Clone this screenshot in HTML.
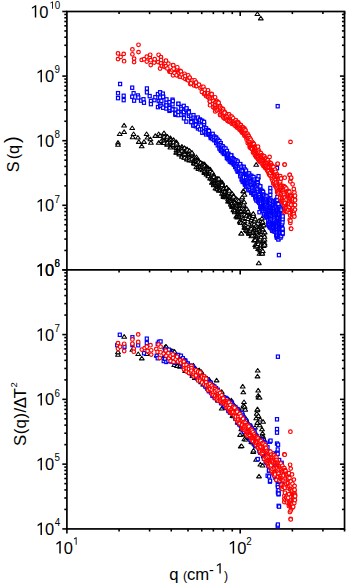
<!DOCTYPE html><html><head><meta charset="utf-8"><style>html,body{margin:0;padding:0;background:#fff;width:346px;height:584px;overflow:hidden}svg{display:block}</style></head><body>
<svg width="346" height="584" viewBox="0 0 346 584" font-family="Liberation Sans, sans-serif">
<g stroke="#000" stroke-linecap="butt"><line x1="62.30" y1="269.90" x2="66.90" y2="269.90" stroke-width="1.6"/><line x1="344.54" y1="269.90" x2="339.94" y2="269.90" stroke-width="1.6"/><line x1="64.30" y1="250.45" x2="66.90" y2="250.45" stroke-width="1.6"/><line x1="344.54" y1="250.45" x2="341.94" y2="250.45" stroke-width="1.6"/><line x1="64.30" y1="239.08" x2="66.90" y2="239.08" stroke-width="1.6"/><line x1="344.54" y1="239.08" x2="341.94" y2="239.08" stroke-width="1.6"/><line x1="64.30" y1="231.01" x2="66.90" y2="231.01" stroke-width="1.6"/><line x1="344.54" y1="231.01" x2="341.94" y2="231.01" stroke-width="1.6"/><line x1="64.30" y1="224.75" x2="66.90" y2="224.75" stroke-width="1.6"/><line x1="344.54" y1="224.75" x2="341.94" y2="224.75" stroke-width="1.6"/><line x1="64.30" y1="219.63" x2="66.90" y2="219.63" stroke-width="1.6"/><line x1="344.54" y1="219.63" x2="341.94" y2="219.63" stroke-width="1.6"/><line x1="64.30" y1="215.31" x2="66.90" y2="215.31" stroke-width="1.6"/><line x1="344.54" y1="215.31" x2="341.94" y2="215.31" stroke-width="1.6"/><line x1="64.30" y1="211.56" x2="66.90" y2="211.56" stroke-width="1.6"/><line x1="344.54" y1="211.56" x2="341.94" y2="211.56" stroke-width="1.6"/><line x1="64.30" y1="208.26" x2="66.90" y2="208.26" stroke-width="1.6"/><line x1="344.54" y1="208.26" x2="341.94" y2="208.26" stroke-width="1.6"/><line x1="62.30" y1="205.30" x2="66.90" y2="205.30" stroke-width="1.6"/><line x1="344.54" y1="205.30" x2="339.94" y2="205.30" stroke-width="1.6"/><line x1="64.30" y1="185.85" x2="66.90" y2="185.85" stroke-width="1.6"/><line x1="344.54" y1="185.85" x2="341.94" y2="185.85" stroke-width="1.6"/><line x1="64.30" y1="174.48" x2="66.90" y2="174.48" stroke-width="1.6"/><line x1="344.54" y1="174.48" x2="341.94" y2="174.48" stroke-width="1.6"/><line x1="64.30" y1="166.41" x2="66.90" y2="166.41" stroke-width="1.6"/><line x1="344.54" y1="166.41" x2="341.94" y2="166.41" stroke-width="1.6"/><line x1="64.30" y1="160.15" x2="66.90" y2="160.15" stroke-width="1.6"/><line x1="344.54" y1="160.15" x2="341.94" y2="160.15" stroke-width="1.6"/><line x1="64.30" y1="155.03" x2="66.90" y2="155.03" stroke-width="1.6"/><line x1="344.54" y1="155.03" x2="341.94" y2="155.03" stroke-width="1.6"/><line x1="64.30" y1="150.71" x2="66.90" y2="150.71" stroke-width="1.6"/><line x1="344.54" y1="150.71" x2="341.94" y2="150.71" stroke-width="1.6"/><line x1="64.30" y1="146.96" x2="66.90" y2="146.96" stroke-width="1.6"/><line x1="344.54" y1="146.96" x2="341.94" y2="146.96" stroke-width="1.6"/><line x1="64.30" y1="143.66" x2="66.90" y2="143.66" stroke-width="1.6"/><line x1="344.54" y1="143.66" x2="341.94" y2="143.66" stroke-width="1.6"/><line x1="62.30" y1="140.70" x2="66.90" y2="140.70" stroke-width="1.6"/><line x1="344.54" y1="140.70" x2="339.94" y2="140.70" stroke-width="1.6"/><line x1="64.30" y1="121.25" x2="66.90" y2="121.25" stroke-width="1.6"/><line x1="344.54" y1="121.25" x2="341.94" y2="121.25" stroke-width="1.6"/><line x1="64.30" y1="109.88" x2="66.90" y2="109.88" stroke-width="1.6"/><line x1="344.54" y1="109.88" x2="341.94" y2="109.88" stroke-width="1.6"/><line x1="64.30" y1="101.81" x2="66.90" y2="101.81" stroke-width="1.6"/><line x1="344.54" y1="101.81" x2="341.94" y2="101.81" stroke-width="1.6"/><line x1="64.30" y1="95.55" x2="66.90" y2="95.55" stroke-width="1.6"/><line x1="344.54" y1="95.55" x2="341.94" y2="95.55" stroke-width="1.6"/><line x1="64.30" y1="90.43" x2="66.90" y2="90.43" stroke-width="1.6"/><line x1="344.54" y1="90.43" x2="341.94" y2="90.43" stroke-width="1.6"/><line x1="64.30" y1="86.11" x2="66.90" y2="86.11" stroke-width="1.6"/><line x1="344.54" y1="86.11" x2="341.94" y2="86.11" stroke-width="1.6"/><line x1="64.30" y1="82.36" x2="66.90" y2="82.36" stroke-width="1.6"/><line x1="344.54" y1="82.36" x2="341.94" y2="82.36" stroke-width="1.6"/><line x1="64.30" y1="79.06" x2="66.90" y2="79.06" stroke-width="1.6"/><line x1="344.54" y1="79.06" x2="341.94" y2="79.06" stroke-width="1.6"/><line x1="62.30" y1="76.10" x2="66.90" y2="76.10" stroke-width="1.6"/><line x1="344.54" y1="76.10" x2="339.94" y2="76.10" stroke-width="1.6"/><line x1="64.30" y1="56.65" x2="66.90" y2="56.65" stroke-width="1.6"/><line x1="344.54" y1="56.65" x2="341.94" y2="56.65" stroke-width="1.6"/><line x1="64.30" y1="45.28" x2="66.90" y2="45.28" stroke-width="1.6"/><line x1="344.54" y1="45.28" x2="341.94" y2="45.28" stroke-width="1.6"/><line x1="64.30" y1="37.21" x2="66.90" y2="37.21" stroke-width="1.6"/><line x1="344.54" y1="37.21" x2="341.94" y2="37.21" stroke-width="1.6"/><line x1="64.30" y1="30.95" x2="66.90" y2="30.95" stroke-width="1.6"/><line x1="344.54" y1="30.95" x2="341.94" y2="30.95" stroke-width="1.6"/><line x1="64.30" y1="25.83" x2="66.90" y2="25.83" stroke-width="1.6"/><line x1="344.54" y1="25.83" x2="341.94" y2="25.83" stroke-width="1.6"/><line x1="64.30" y1="21.51" x2="66.90" y2="21.51" stroke-width="1.6"/><line x1="344.54" y1="21.51" x2="341.94" y2="21.51" stroke-width="1.6"/><line x1="64.30" y1="17.76" x2="66.90" y2="17.76" stroke-width="1.6"/><line x1="344.54" y1="17.76" x2="341.94" y2="17.76" stroke-width="1.6"/><line x1="64.30" y1="14.46" x2="66.90" y2="14.46" stroke-width="1.6"/><line x1="344.54" y1="14.46" x2="341.94" y2="14.46" stroke-width="1.6"/><line x1="62.30" y1="11.50" x2="66.90" y2="11.50" stroke-width="1.6"/><line x1="62.30" y1="528.92" x2="66.90" y2="528.92" stroke-width="1.6"/><line x1="344.54" y1="528.92" x2="339.94" y2="528.92" stroke-width="1.6"/><line x1="64.30" y1="509.42" x2="66.90" y2="509.42" stroke-width="1.6"/><line x1="344.54" y1="509.42" x2="341.94" y2="509.42" stroke-width="1.6"/><line x1="64.30" y1="498.01" x2="66.90" y2="498.01" stroke-width="1.6"/><line x1="344.54" y1="498.01" x2="341.94" y2="498.01" stroke-width="1.6"/><line x1="64.30" y1="489.92" x2="66.90" y2="489.92" stroke-width="1.6"/><line x1="344.54" y1="489.92" x2="341.94" y2="489.92" stroke-width="1.6"/><line x1="64.30" y1="483.64" x2="66.90" y2="483.64" stroke-width="1.6"/><line x1="344.54" y1="483.64" x2="341.94" y2="483.64" stroke-width="1.6"/><line x1="64.30" y1="478.51" x2="66.90" y2="478.51" stroke-width="1.6"/><line x1="344.54" y1="478.51" x2="341.94" y2="478.51" stroke-width="1.6"/><line x1="64.30" y1="474.17" x2="66.90" y2="474.17" stroke-width="1.6"/><line x1="344.54" y1="474.17" x2="341.94" y2="474.17" stroke-width="1.6"/><line x1="64.30" y1="470.42" x2="66.90" y2="470.42" stroke-width="1.6"/><line x1="344.54" y1="470.42" x2="341.94" y2="470.42" stroke-width="1.6"/><line x1="64.30" y1="467.10" x2="66.90" y2="467.10" stroke-width="1.6"/><line x1="344.54" y1="467.10" x2="341.94" y2="467.10" stroke-width="1.6"/><line x1="62.30" y1="464.14" x2="66.90" y2="464.14" stroke-width="1.6"/><line x1="344.54" y1="464.14" x2="339.94" y2="464.14" stroke-width="1.6"/><line x1="64.30" y1="444.64" x2="66.90" y2="444.64" stroke-width="1.6"/><line x1="344.54" y1="444.64" x2="341.94" y2="444.64" stroke-width="1.6"/><line x1="64.30" y1="433.23" x2="66.90" y2="433.23" stroke-width="1.6"/><line x1="344.54" y1="433.23" x2="341.94" y2="433.23" stroke-width="1.6"/><line x1="64.30" y1="425.14" x2="66.90" y2="425.14" stroke-width="1.6"/><line x1="344.54" y1="425.14" x2="341.94" y2="425.14" stroke-width="1.6"/><line x1="64.30" y1="418.86" x2="66.90" y2="418.86" stroke-width="1.6"/><line x1="344.54" y1="418.86" x2="341.94" y2="418.86" stroke-width="1.6"/><line x1="64.30" y1="413.73" x2="66.90" y2="413.73" stroke-width="1.6"/><line x1="344.54" y1="413.73" x2="341.94" y2="413.73" stroke-width="1.6"/><line x1="64.30" y1="409.39" x2="66.90" y2="409.39" stroke-width="1.6"/><line x1="344.54" y1="409.39" x2="341.94" y2="409.39" stroke-width="1.6"/><line x1="64.30" y1="405.64" x2="66.90" y2="405.64" stroke-width="1.6"/><line x1="344.54" y1="405.64" x2="341.94" y2="405.64" stroke-width="1.6"/><line x1="64.30" y1="402.32" x2="66.90" y2="402.32" stroke-width="1.6"/><line x1="344.54" y1="402.32" x2="341.94" y2="402.32" stroke-width="1.6"/><line x1="62.30" y1="399.36" x2="66.90" y2="399.36" stroke-width="1.6"/><line x1="344.54" y1="399.36" x2="339.94" y2="399.36" stroke-width="1.6"/><line x1="64.30" y1="379.86" x2="66.90" y2="379.86" stroke-width="1.6"/><line x1="344.54" y1="379.86" x2="341.94" y2="379.86" stroke-width="1.6"/><line x1="64.30" y1="368.45" x2="66.90" y2="368.45" stroke-width="1.6"/><line x1="344.54" y1="368.45" x2="341.94" y2="368.45" stroke-width="1.6"/><line x1="64.30" y1="360.36" x2="66.90" y2="360.36" stroke-width="1.6"/><line x1="344.54" y1="360.36" x2="341.94" y2="360.36" stroke-width="1.6"/><line x1="64.30" y1="354.08" x2="66.90" y2="354.08" stroke-width="1.6"/><line x1="344.54" y1="354.08" x2="341.94" y2="354.08" stroke-width="1.6"/><line x1="64.30" y1="348.95" x2="66.90" y2="348.95" stroke-width="1.6"/><line x1="344.54" y1="348.95" x2="341.94" y2="348.95" stroke-width="1.6"/><line x1="64.30" y1="344.61" x2="66.90" y2="344.61" stroke-width="1.6"/><line x1="344.54" y1="344.61" x2="341.94" y2="344.61" stroke-width="1.6"/><line x1="64.30" y1="340.86" x2="66.90" y2="340.86" stroke-width="1.6"/><line x1="344.54" y1="340.86" x2="341.94" y2="340.86" stroke-width="1.6"/><line x1="64.30" y1="337.54" x2="66.90" y2="337.54" stroke-width="1.6"/><line x1="344.54" y1="337.54" x2="341.94" y2="337.54" stroke-width="1.6"/><line x1="62.30" y1="334.58" x2="66.90" y2="334.58" stroke-width="1.6"/><line x1="344.54" y1="334.58" x2="339.94" y2="334.58" stroke-width="1.6"/><line x1="64.30" y1="315.08" x2="66.90" y2="315.08" stroke-width="1.6"/><line x1="344.54" y1="315.08" x2="341.94" y2="315.08" stroke-width="1.6"/><line x1="64.30" y1="303.67" x2="66.90" y2="303.67" stroke-width="1.6"/><line x1="344.54" y1="303.67" x2="341.94" y2="303.67" stroke-width="1.6"/><line x1="64.30" y1="295.58" x2="66.90" y2="295.58" stroke-width="1.6"/><line x1="344.54" y1="295.58" x2="341.94" y2="295.58" stroke-width="1.6"/><line x1="64.30" y1="289.30" x2="66.90" y2="289.30" stroke-width="1.6"/><line x1="344.54" y1="289.30" x2="341.94" y2="289.30" stroke-width="1.6"/><line x1="64.30" y1="284.17" x2="66.90" y2="284.17" stroke-width="1.6"/><line x1="344.54" y1="284.17" x2="341.94" y2="284.17" stroke-width="1.6"/><line x1="64.30" y1="279.83" x2="66.90" y2="279.83" stroke-width="1.6"/><line x1="344.54" y1="279.83" x2="341.94" y2="279.83" stroke-width="1.6"/><line x1="64.30" y1="276.08" x2="66.90" y2="276.08" stroke-width="1.6"/><line x1="344.54" y1="276.08" x2="341.94" y2="276.08" stroke-width="1.6"/><line x1="64.30" y1="272.76" x2="66.90" y2="272.76" stroke-width="1.6"/><line x1="344.54" y1="272.76" x2="341.94" y2="272.76" stroke-width="1.6"/><line x1="62.30" y1="269.80" x2="66.90" y2="269.80" stroke-width="1.6"/><line x1="119.07" y1="11.50" x2="119.07" y2="14.10" stroke-width="1.6"/><line x1="119.07" y1="269.80" x2="119.07" y2="272.40" stroke-width="1.6"/><line x1="119.07" y1="528.92" x2="119.07" y2="531.52" stroke-width="1.6"/><line x1="149.59" y1="11.50" x2="149.59" y2="14.10" stroke-width="1.6"/><line x1="149.59" y1="269.80" x2="149.59" y2="272.40" stroke-width="1.6"/><line x1="149.59" y1="528.92" x2="149.59" y2="531.52" stroke-width="1.6"/><line x1="171.24" y1="11.50" x2="171.24" y2="14.10" stroke-width="1.6"/><line x1="171.24" y1="269.80" x2="171.24" y2="272.40" stroke-width="1.6"/><line x1="171.24" y1="528.92" x2="171.24" y2="531.52" stroke-width="1.6"/><line x1="188.03" y1="11.50" x2="188.03" y2="14.10" stroke-width="1.6"/><line x1="188.03" y1="269.80" x2="188.03" y2="272.40" stroke-width="1.6"/><line x1="188.03" y1="528.92" x2="188.03" y2="531.52" stroke-width="1.6"/><line x1="201.75" y1="11.50" x2="201.75" y2="14.10" stroke-width="1.6"/><line x1="201.75" y1="269.80" x2="201.75" y2="272.40" stroke-width="1.6"/><line x1="201.75" y1="528.92" x2="201.75" y2="531.52" stroke-width="1.6"/><line x1="213.36" y1="11.50" x2="213.36" y2="14.10" stroke-width="1.6"/><line x1="213.36" y1="269.80" x2="213.36" y2="272.40" stroke-width="1.6"/><line x1="213.36" y1="528.92" x2="213.36" y2="531.52" stroke-width="1.6"/><line x1="223.41" y1="11.50" x2="223.41" y2="14.10" stroke-width="1.6"/><line x1="223.41" y1="269.80" x2="223.41" y2="272.40" stroke-width="1.6"/><line x1="223.41" y1="528.92" x2="223.41" y2="531.52" stroke-width="1.6"/><line x1="232.27" y1="11.50" x2="232.27" y2="14.10" stroke-width="1.6"/><line x1="232.27" y1="269.80" x2="232.27" y2="272.40" stroke-width="1.6"/><line x1="232.27" y1="528.92" x2="232.27" y2="531.52" stroke-width="1.6"/><line x1="240.20" y1="11.50" x2="240.20" y2="16.10" stroke-width="1.6"/><line x1="240.20" y1="269.80" x2="240.20" y2="274.40" stroke-width="1.6"/><line x1="240.20" y1="528.92" x2="240.20" y2="533.52" stroke-width="1.6"/><line x1="292.37" y1="11.50" x2="292.37" y2="14.10" stroke-width="1.6"/><line x1="292.37" y1="269.80" x2="292.37" y2="272.40" stroke-width="1.6"/><line x1="292.37" y1="528.92" x2="292.37" y2="531.52" stroke-width="1.6"/><line x1="322.89" y1="11.50" x2="322.89" y2="14.10" stroke-width="1.6"/><line x1="322.89" y1="269.80" x2="322.89" y2="272.40" stroke-width="1.6"/><line x1="322.89" y1="528.92" x2="322.89" y2="531.52" stroke-width="1.6"/><line x1="344.54" y1="11.50" x2="344.54" y2="14.10" stroke-width="1.6"/><line x1="344.54" y1="269.80" x2="344.54" y2="272.40" stroke-width="1.6"/><line x1="344.54" y1="528.92" x2="344.54" y2="531.52" stroke-width="1.6"/><line x1="66.90" y1="528.92" x2="66.90" y2="533.52" stroke-width="1.6"/></g>
<rect x="66.90" y="11.50" width="277.64" height="517.42" fill="none" stroke="#000" stroke-width="1.7"/>
<line x1="66.90" y1="269.80" x2="344.54" y2="269.80" stroke="#000" stroke-width="1.7"/>
<polygon points="34.80,17.61 36.26,17.61 36.26,5.20 35.32,5.20 31.90,7.42 31.90,8.86 34.80,7.11"/>
<text x="39.28" y="16.77" font-size="16.5" transform="scale(1,1.05)">0</text>
<polygon points="52.12,8.75 52.99,8.75 52.99,1.38 52.43,1.38 50.40,2.70 50.40,3.55 52.12,2.51"/>
<text x="54.78" y="8.33" font-size="9.8" transform="scale(1,1.05)">0</text>
<polygon points="40.50,82.21 41.96,82.21 41.96,69.80 41.02,69.80 37.60,72.02 37.60,73.46 40.50,71.71"/>
<text x="44.98" y="78.29" font-size="16.5" transform="scale(1,1.05)">0</text>
<text x="54.44" y="69.85" font-size="9.8" transform="scale(1,1.05)">9</text>
<polygon points="40.50,146.81 41.96,146.81 41.96,134.40 41.02,134.40 37.60,136.62 37.60,138.06 40.50,136.31"/>
<text x="44.98" y="139.82" font-size="16.5" transform="scale(1,1.05)">0</text>
<text x="54.48" y="131.38" font-size="9.8" transform="scale(1,1.05)">8</text>
<polygon points="40.50,211.41 41.96,211.41 41.96,199.00 41.02,199.00 37.60,201.22 37.60,202.66 40.50,200.91"/>
<text x="44.98" y="201.34" font-size="16.5" transform="scale(1,1.05)">0</text>
<text x="54.40" y="192.90" font-size="9.8" transform="scale(1,1.05)">7</text>
<polygon points="40.50,276.01 41.96,276.01 41.96,263.60 41.02,263.60 37.60,265.82 37.60,267.26 40.50,265.51"/>
<text x="44.98" y="262.86" font-size="16.5" transform="scale(1,1.05)">0</text>
<text x="54.40" y="254.43" font-size="9.8" transform="scale(1,1.05)">6</text>
<polygon points="40.50,276.01 41.96,276.01 41.96,263.60 41.02,263.60 37.60,265.82 37.60,267.26 40.50,265.51"/>
<text x="44.98" y="262.86" font-size="16.5" transform="scale(1,1.05)">0</text>
<text x="54.48" y="254.43" font-size="9.8" transform="scale(1,1.05)">8</text>
<polygon points="40.50,340.69 41.96,340.69 41.96,328.28 41.02,328.28 37.60,330.50 37.60,331.94 40.50,330.19"/>
<text x="44.98" y="324.46" font-size="16.5" transform="scale(1,1.05)">0</text>
<text x="54.40" y="316.03" font-size="9.8" transform="scale(1,1.05)">7</text>
<polygon points="40.50,405.47 41.96,405.47 41.96,393.06 41.02,393.06 37.60,395.28 37.60,396.72 40.50,394.97"/>
<text x="44.98" y="386.16" font-size="16.5" transform="scale(1,1.05)">0</text>
<text x="54.40" y="377.72" font-size="9.8" transform="scale(1,1.05)">6</text>
<polygon points="40.50,470.25 41.96,470.25 41.96,457.84 41.02,457.84 37.60,460.06 37.60,461.50 40.50,459.75"/>
<text x="44.98" y="447.85" font-size="16.5" transform="scale(1,1.05)">0</text>
<text x="54.51" y="439.42" font-size="9.8" transform="scale(1,1.05)">5</text>
<polygon points="40.50,535.03 41.96,535.03 41.96,522.62 41.02,522.62 37.60,524.84 37.60,526.28 40.50,524.53"/>
<text x="44.98" y="509.55" font-size="16.5" transform="scale(1,1.05)">0</text>
<text x="54.67" y="501.11" font-size="9.8" transform="scale(1,1.05)">4</text>
<polygon points="59.30,553.51 60.76,553.51 60.76,541.10 59.82,541.10 56.40,543.32 56.40,544.76 59.30,543.01"/>
<text x="63.78" y="527.15" font-size="16.5" transform="scale(1,1.05)">0</text>
<polygon points="75.72,544.65 76.59,544.65 76.59,537.28 76.03,537.28 74.00,538.60 74.00,539.45 75.72,538.41"/>
<polygon points="232.70,553.51 234.16,553.51 234.16,541.10 233.22,541.10 229.80,543.32 229.80,544.76 232.70,543.01"/>
<text x="237.18" y="527.15" font-size="16.5" transform="scale(1,1.05)">0</text>
<text x="246.31" y="518.71" font-size="9.8" transform="scale(1,1.05)">2</text>
<text transform="translate(19.00,172.33) rotate(-90)" font-size="16.3">S</text>
<text transform="translate(19.00,159.21) rotate(-90)" font-size="16.3">(</text>
<text transform="translate(19.00,154.08) rotate(-90)" font-size="16.3">q</text>
<text transform="translate(19.00,143.02) rotate(-90)" font-size="20">)</text>
<text transform="translate(26.10,446.06) rotate(-90)" font-size="16.8">S</text>
<text transform="translate(26.10,434.34) rotate(-90)" font-size="16.8">(</text>
<text transform="translate(26.10,428.41) rotate(-90)" font-size="16.8">q</text>
<text transform="translate(26.10,418.40) rotate(-90)" font-size="16.8">)</text>
<text transform="translate(26.10,412.60) rotate(-90)" font-size="16.8">/</text>
<text transform="translate(26.10,408.20) rotate(-90)" font-size="16.8">Δ</text>
<text transform="translate(26.10,398.27) rotate(-90)" font-size="16.8">T</text>
<text transform="translate(16.50,387.47) rotate(-90)" font-size="9.4">2</text>
<text x="169.2" y="579.6" font-size="16.7">q</text>
<text x="183.1" y="580.2" font-size="12.3">(</text>
<text x="187.0" y="579.6" font-size="16.7">cm</text>
<text x="209.1" y="574.8" font-size="14.5">-</text>
<polygon points="219.43,573.60 220.71,573.60 220.71,563.22 219.88,563.22 216.88,565.07 216.88,566.28 219.43,564.81"/>
<text x="223.9" y="580.2" font-size="12.3">)</text>
<defs><circle id="c" r="1.8" fill="#fff" stroke="#f00" stroke-width="1.2"/><rect id="s" x="-1.525" y="-1.65" width="3.05" height="3.3" fill="#fff" stroke="#00f" stroke-width="1.2"/><path id="t" d="M0 -1.95L2.4 1.65H-2.4z" fill="#fff" stroke="#000" stroke-width="1.05" stroke-linejoin="round"/></defs>
<use href="#t" x="118.0" y="142.6"/><use href="#t" x="118.0" y="144.6"/><use href="#t" x="119.7" y="133.9"/><use href="#t" x="124.1" y="125.3"/><use href="#t" x="124.1" y="131.8"/><use href="#t" x="132.2" y="127.9"/><use href="#t" x="132.7" y="137.0"/><use href="#t" x="133.6" y="133.9"/><use href="#t" x="137.9" y="137.4"/><use href="#t" x="138.8" y="141.7"/><use href="#t" x="141.7" y="146.1"/><use href="#t" x="144.0" y="141.7"/><use href="#t" x="146.6" y="133.9"/><use href="#t" x="147.5" y="137.4"/><use href="#t" x="150.4" y="139.1"/><use href="#t" x="150.9" y="142.6"/><use href="#t" x="155.3" y="135.7"/><use href="#t" x="158.7" y="133.9"/><use href="#t" x="158.7" y="142.6"/><use href="#t" x="160.1" y="135.7"/><use href="#t" x="161.3" y="140.9"/><use href="#t" x="163.9" y="138.3"/><use href="#t" x="163.9" y="142.6"/><use href="#t" x="163.9" y="141.3"/><use href="#t" x="163.9" y="141.6"/><use href="#t" x="164.0" y="140.7"/><use href="#t" x="164.0" y="133.6"/><use href="#t" x="164.0" y="133.0"/><use href="#t" x="164.0" y="142.7"/><use href="#t" x="164.0" y="140.9"/><use href="#t" x="164.1" y="142.9"/><use href="#t" x="164.1" y="136.6"/><use href="#t" x="167.2" y="136.7"/><use href="#t" x="167.2" y="139.4"/><use href="#t" x="167.3" y="137.5"/><use href="#t" x="167.3" y="144.5"/><use href="#t" x="167.3" y="137.4"/><use href="#t" x="167.3" y="144.1"/><use href="#t" x="167.4" y="138.5"/><use href="#t" x="167.4" y="136.6"/><use href="#t" x="167.4" y="142.6"/><use href="#t" x="170.4" y="138.2"/><use href="#t" x="170.4" y="137.9"/><use href="#t" x="170.5" y="142.1"/><use href="#t" x="170.5" y="139.5"/><use href="#t" x="170.5" y="146.8"/><use href="#t" x="170.6" y="147.4"/><use href="#t" x="170.6" y="139.5"/><use href="#t" x="170.6" y="142.1"/><use href="#t" x="173.4" y="143.3"/><use href="#t" x="173.4" y="146.1"/><use href="#t" x="173.5" y="140.5"/><use href="#t" x="173.5" y="143.9"/><use href="#t" x="173.5" y="141.5"/><use href="#t" x="173.6" y="144.8"/><use href="#t" x="173.6" y="139.7"/><use href="#t" x="173.6" y="142.0"/><use href="#t" x="176.3" y="152.5"/><use href="#t" x="176.4" y="147.2"/><use href="#t" x="176.4" y="144.7"/><use href="#t" x="176.5" y="147.9"/><use href="#t" x="176.5" y="142.0"/><use href="#t" x="176.5" y="143.3"/><use href="#t" x="176.5" y="150.1"/><use href="#t" x="176.6" y="152.2"/><use href="#t" x="179.2" y="147.9"/><use href="#t" x="179.2" y="150.9"/><use href="#t" x="179.2" y="150.0"/><use href="#t" x="179.3" y="152.0"/><use href="#t" x="179.3" y="150.9"/><use href="#t" x="179.3" y="154.2"/><use href="#t" x="179.3" y="147.3"/><use href="#t" x="179.4" y="152.7"/><use href="#t" x="181.8" y="147.2"/><use href="#t" x="181.9" y="149.0"/><use href="#t" x="181.9" y="149.7"/><use href="#t" x="181.9" y="146.4"/><use href="#t" x="181.9" y="149.4"/><use href="#t" x="181.9" y="148.3"/><use href="#t" x="182.0" y="155.3"/><use href="#t" x="182.0" y="156.6"/><use href="#t" x="182.0" y="150.6"/><use href="#t" x="184.5" y="148.1"/><use href="#t" x="184.5" y="157.1"/><use href="#t" x="184.5" y="157.6"/><use href="#t" x="184.6" y="148.0"/><use href="#t" x="184.6" y="155.2"/><use href="#t" x="184.6" y="157.4"/><use href="#t" x="184.7" y="151.2"/><use href="#t" x="184.7" y="152.0"/><use href="#t" x="184.7" y="153.6"/><use href="#t" x="187.0" y="149.0"/><use href="#t" x="187.1" y="158.4"/><use href="#t" x="187.1" y="151.2"/><use href="#t" x="187.1" y="159.4"/><use href="#t" x="187.1" y="151.0"/><use href="#t" x="187.1" y="158.3"/><use href="#t" x="187.2" y="151.7"/><use href="#t" x="187.2" y="150.9"/><use href="#t" x="187.2" y="149.6"/><use href="#t" x="189.5" y="160.4"/><use href="#t" x="189.5" y="157.7"/><use href="#t" x="189.5" y="157.4"/><use href="#t" x="189.5" y="150.9"/><use href="#t" x="189.5" y="153.9"/><use href="#t" x="189.6" y="152.3"/><use href="#t" x="189.6" y="150.7"/><use href="#t" x="189.6" y="159.9"/><use href="#t" x="189.6" y="153.8"/><use href="#t" x="191.8" y="153.4"/><use href="#t" x="191.9" y="160.4"/><use href="#t" x="191.9" y="155.2"/><use href="#t" x="191.9" y="153.0"/><use href="#t" x="192.0" y="154.0"/><use href="#t" x="192.0" y="153.4"/><use href="#t" x="192.0" y="152.6"/><use href="#t" x="192.0" y="158.6"/><use href="#t" x="194.1" y="162.8"/><use href="#t" x="194.1" y="159.7"/><use href="#t" x="194.1" y="163.2"/><use href="#t" x="194.2" y="161.3"/><use href="#t" x="194.2" y="160.6"/><use href="#t" x="194.2" y="160.8"/><use href="#t" x="194.3" y="162.5"/><use href="#t" x="194.3" y="163.2"/><use href="#t" x="196.3" y="157.8"/><use href="#t" x="196.3" y="158.3"/><use href="#t" x="196.3" y="167.1"/><use href="#t" x="196.4" y="157.0"/><use href="#t" x="196.4" y="162.3"/><use href="#t" x="196.5" y="159.3"/><use href="#t" x="196.5" y="164.0"/><use href="#t" x="196.5" y="160.8"/><use href="#t" x="198.5" y="160.4"/><use href="#t" x="198.5" y="160.2"/><use href="#t" x="198.5" y="166.7"/><use href="#t" x="198.5" y="165.2"/><use href="#t" x="198.5" y="168.4"/><use href="#t" x="198.6" y="166.9"/><use href="#t" x="198.6" y="168.8"/><use href="#t" x="198.7" y="162.0"/><use href="#t" x="198.7" y="166.3"/><use href="#t" x="200.6" y="168.9"/><use href="#t" x="200.6" y="167.6"/><use href="#t" x="200.6" y="166.6"/><use href="#t" x="200.6" y="164.7"/><use href="#t" x="200.6" y="162.9"/><use href="#t" x="200.6" y="166.7"/><use href="#t" x="200.6" y="166.0"/><use href="#t" x="200.7" y="162.5"/><use href="#t" x="200.8" y="169.4"/><use href="#t" x="202.6" y="170.1"/><use href="#t" x="202.7" y="164.8"/><use href="#t" x="202.7" y="164.2"/><use href="#t" x="202.7" y="163.7"/><use href="#t" x="202.8" y="169.1"/><use href="#t" x="202.8" y="163.7"/><use href="#t" x="202.8" y="166.7"/><use href="#t" x="202.8" y="165.0"/><use href="#t" x="204.6" y="172.7"/><use href="#t" x="204.6" y="164.1"/><use href="#t" x="204.6" y="171.8"/><use href="#t" x="204.6" y="172.9"/><use href="#t" x="204.7" y="171.9"/><use href="#t" x="204.7" y="168.0"/><use href="#t" x="204.8" y="170.9"/><use href="#t" x="204.8" y="165.5"/><use href="#t" x="206.5" y="174.3"/><use href="#t" x="206.5" y="171.7"/><use href="#t" x="206.5" y="171.7"/><use href="#t" x="206.5" y="166.4"/><use href="#t" x="206.7" y="166.9"/><use href="#t" x="206.7" y="167.6"/><use href="#t" x="206.7" y="172.0"/><use href="#t" x="206.7" y="168.6"/><use href="#t" x="208.4" y="168.0"/><use href="#t" x="208.4" y="175.0"/><use href="#t" x="208.4" y="171.5"/><use href="#t" x="208.4" y="173.3"/><use href="#t" x="208.4" y="170.9"/><use href="#t" x="208.5" y="176.0"/><use href="#t" x="208.5" y="169.2"/><use href="#t" x="208.5" y="173.7"/><use href="#t" x="210.2" y="172.6"/><use href="#t" x="210.2" y="171.6"/><use href="#t" x="210.3" y="171.7"/><use href="#t" x="210.3" y="178.3"/><use href="#t" x="210.3" y="172.5"/><use href="#t" x="210.3" y="169.3"/><use href="#t" x="210.3" y="173.1"/><use href="#t" x="210.4" y="178.0"/><use href="#t" x="210.5" y="171.1"/><use href="#t" x="212.1" y="182.4"/><use href="#t" x="212.1" y="179.3"/><use href="#t" x="212.1" y="175.3"/><use href="#t" x="212.1" y="174.5"/><use href="#t" x="212.1" y="178.5"/><use href="#t" x="212.2" y="177.3"/><use href="#t" x="212.2" y="182.5"/><use href="#t" x="212.3" y="172.4"/><use href="#t" x="213.8" y="185.0"/><use href="#t" x="213.8" y="175.1"/><use href="#t" x="213.8" y="177.6"/><use href="#t" x="213.8" y="182.0"/><use href="#t" x="213.9" y="181.3"/><use href="#t" x="213.9" y="175.9"/><use href="#t" x="213.9" y="184.1"/><use href="#t" x="214.0" y="180.8"/><use href="#t" x="214.0" y="176.8"/><use href="#t" x="215.5" y="181.9"/><use href="#t" x="215.5" y="188.2"/><use href="#t" x="215.6" y="179.8"/><use href="#t" x="215.6" y="181.4"/><use href="#t" x="215.6" y="178.8"/><use href="#t" x="215.6" y="182.9"/><use href="#t" x="215.6" y="179.6"/><use href="#t" x="215.6" y="183.1"/><use href="#t" x="215.7" y="184.7"/><use href="#t" x="217.2" y="179.3"/><use href="#t" x="217.2" y="187.5"/><use href="#t" x="217.3" y="183.5"/><use href="#t" x="217.3" y="183.5"/><use href="#t" x="217.3" y="189.1"/><use href="#t" x="217.3" y="182.8"/><use href="#t" x="217.3" y="178.6"/><use href="#t" x="217.4" y="179.9"/><use href="#t" x="218.8" y="181.5"/><use href="#t" x="218.8" y="179.7"/><use href="#t" x="218.9" y="178.6"/><use href="#t" x="218.9" y="185.3"/><use href="#t" x="219.0" y="183.0"/><use href="#t" x="219.0" y="189.7"/><use href="#t" x="219.0" y="187.0"/><use href="#t" x="219.0" y="190.5"/><use href="#t" x="220.4" y="185.1"/><use href="#t" x="220.4" y="190.4"/><use href="#t" x="220.4" y="187.1"/><use href="#t" x="220.4" y="185.0"/><use href="#t" x="220.5" y="189.3"/><use href="#t" x="220.5" y="189.5"/><use href="#t" x="220.5" y="182.6"/><use href="#t" x="220.6" y="186.5"/><use href="#t" x="220.6" y="185.3"/><use href="#t" x="222.0" y="193.6"/><use href="#t" x="222.0" y="185.4"/><use href="#t" x="222.0" y="190.2"/><use href="#t" x="222.0" y="182.2"/><use href="#t" x="222.1" y="182.8"/><use href="#t" x="222.1" y="186.7"/><use href="#t" x="222.1" y="184.1"/><use href="#t" x="222.1" y="187.5"/><use href="#t" x="222.1" y="184.9"/><use href="#t" x="223.5" y="187.8"/><use href="#t" x="223.5" y="196.1"/><use href="#t" x="223.6" y="194.5"/><use href="#t" x="223.6" y="193.7"/><use href="#t" x="223.6" y="190.5"/><use href="#t" x="223.6" y="188.6"/><use href="#t" x="223.6" y="188.9"/><use href="#t" x="223.6" y="188.4"/><use href="#t" x="223.6" y="196.7"/><use href="#t" x="225.0" y="195.3"/><use href="#t" x="225.1" y="195.1"/><use href="#t" x="225.1" y="197.1"/><use href="#t" x="225.1" y="193.0"/><use href="#t" x="225.1" y="190.6"/><use href="#t" x="225.1" y="191.7"/><use href="#t" x="225.1" y="196.2"/><use href="#t" x="225.2" y="191.3"/><use href="#t" x="226.5" y="188.0"/><use href="#t" x="226.5" y="188.2"/><use href="#t" x="226.6" y="196.2"/><use href="#t" x="226.6" y="195.8"/><use href="#t" x="226.6" y="196.8"/><use href="#t" x="226.6" y="187.4"/><use href="#t" x="226.6" y="187.4"/><use href="#t" x="226.6" y="197.0"/><use href="#t" x="226.6" y="187.7"/><use href="#t" x="227.9" y="195.1"/><use href="#t" x="228.0" y="201.4"/><use href="#t" x="228.0" y="191.7"/><use href="#t" x="228.0" y="190.2"/><use href="#t" x="228.0" y="195.6"/><use href="#t" x="228.1" y="191.6"/><use href="#t" x="228.1" y="199.1"/><use href="#t" x="228.1" y="196.0"/><use href="#t" x="229.0" y="190.0"/><use href="#t" x="229.3" y="192.5"/><use href="#t" x="229.3" y="200.3"/><use href="#t" x="229.4" y="201.0"/><use href="#t" x="229.4" y="190.5"/><use href="#t" x="229.4" y="197.5"/><use href="#t" x="229.4" y="196.9"/><use href="#t" x="229.4" y="195.9"/><use href="#t" x="229.5" y="201.2"/><use href="#t" x="230.7" y="199.0"/><use href="#t" x="230.8" y="195.8"/><use href="#t" x="230.8" y="202.4"/><use href="#t" x="230.8" y="204.3"/><use href="#t" x="230.8" y="199.5"/><use href="#t" x="230.8" y="195.7"/><use href="#t" x="230.8" y="197.0"/><use href="#t" x="230.9" y="201.2"/><use href="#t" x="232.1" y="202.5"/><use href="#t" x="232.1" y="206.0"/><use href="#t" x="232.1" y="201.9"/><use href="#t" x="232.1" y="197.2"/><use href="#t" x="232.2" y="193.6"/><use href="#t" x="232.2" y="205.0"/><use href="#t" x="232.2" y="206.9"/><use href="#t" x="232.2" y="203.1"/><use href="#t" x="233.4" y="205.8"/><use href="#t" x="233.4" y="196.6"/><use href="#t" x="233.4" y="197.5"/><use href="#t" x="233.5" y="205.1"/><use href="#t" x="233.5" y="210.1"/><use href="#t" x="233.6" y="209.3"/><use href="#t" x="233.6" y="195.6"/><use href="#t" x="233.6" y="196.5"/><use href="#t" x="234.7" y="202.5"/><use href="#t" x="234.7" y="210.7"/><use href="#t" x="234.7" y="205.6"/><use href="#t" x="234.8" y="200.7"/><use href="#t" x="234.8" y="206.0"/><use href="#t" x="234.8" y="212.0"/><use href="#t" x="234.9" y="202.3"/><use href="#t" x="235.0" y="210.0"/><use href="#t" x="236.0" y="207.4"/><use href="#t" x="236.1" y="207.0"/><use href="#t" x="236.2" y="205.1"/><use href="#t" x="236.2" y="205.8"/><use href="#t" x="236.2" y="203.5"/><use href="#t" x="236.2" y="198.9"/><use href="#t" x="236.2" y="199.0"/><use href="#t" x="236.2" y="206.4"/><use href="#t" x="236.2" y="216.3"/><use href="#t" x="237.3" y="217.4"/><use href="#t" x="237.3" y="211.8"/><use href="#t" x="237.3" y="199.8"/><use href="#t" x="237.3" y="215.8"/><use href="#t" x="237.4" y="210.5"/><use href="#t" x="237.5" y="208.1"/><use href="#t" x="237.5" y="203.6"/><use href="#t" x="237.5" y="205.2"/><use href="#t" x="237.5" y="210.6"/><use href="#t" x="238.5" y="209.5"/><use href="#t" x="238.6" y="210.7"/><use href="#t" x="238.6" y="213.7"/><use href="#t" x="238.6" y="215.9"/><use href="#t" x="238.6" y="209.3"/><use href="#t" x="238.6" y="216.9"/><use href="#t" x="238.7" y="201.3"/><use href="#t" x="238.7" y="200.7"/><use href="#t" x="238.7" y="216.9"/><use href="#t" x="239.8" y="203.9"/><use href="#t" x="239.8" y="221.4"/><use href="#t" x="239.8" y="216.2"/><use href="#t" x="239.9" y="208.8"/><use href="#t" x="239.9" y="221.2"/><use href="#t" x="239.9" y="212.2"/><use href="#t" x="240.0" y="208.3"/><use href="#t" x="240.0" y="204.4"/><use href="#t" x="240.6" y="222.9"/><use href="#t" x="241.0" y="222.9"/><use href="#t" x="241.0" y="212.7"/><use href="#t" x="241.0" y="210.3"/><use href="#t" x="241.0" y="211.2"/><use href="#t" x="241.0" y="204.5"/><use href="#t" x="241.1" y="222.5"/><use href="#t" x="241.1" y="214.3"/><use href="#t" x="241.2" y="233.3"/><use href="#t" x="241.4" y="233.4"/><use href="#t" x="241.6" y="198.6"/><use href="#t" x="242.2" y="206.1"/><use href="#t" x="242.2" y="215.0"/><use href="#t" x="242.3" y="203.1"/><use href="#t" x="242.3" y="197.0"/><use href="#t" x="242.3" y="216.3"/><use href="#t" x="242.3" y="207.9"/><use href="#t" x="242.4" y="214.3"/><use href="#t" x="243.3" y="190.8"/><use href="#t" x="243.4" y="204.8"/><use href="#t" x="243.5" y="205.3"/><use href="#t" x="243.5" y="209.0"/><use href="#t" x="243.5" y="204.3"/><use href="#t" x="243.5" y="191.2"/><use href="#t" x="243.5" y="222.6"/><use href="#t" x="243.6" y="218.1"/><use href="#t" x="244.2" y="202.0"/><use href="#t" x="244.5" y="227.1"/><use href="#t" x="244.5" y="194.5"/><use href="#t" x="244.5" y="214.3"/><use href="#t" x="244.5" y="221.1"/><use href="#t" x="244.6" y="224.5"/><use href="#t" x="244.6" y="227.6"/><use href="#t" x="244.6" y="224.4"/><use href="#t" x="244.7" y="210.3"/><use href="#t" x="245.2" y="227.5"/><use href="#t" x="245.7" y="208.9"/><use href="#t" x="245.7" y="210.9"/><use href="#t" x="245.7" y="225.2"/><use href="#t" x="245.8" y="228.1"/><use href="#t" x="245.8" y="217.8"/><use href="#t" x="245.9" y="229.8"/><use href="#t" x="246.8" y="215.5"/><use href="#t" x="246.9" y="211.7"/><use href="#t" x="246.9" y="230.9"/><use href="#t" x="246.9" y="209.0"/><use href="#t" x="246.9" y="227.9"/><use href="#t" x="248.0" y="228.1"/><use href="#t" x="248.0" y="218.9"/><use href="#t" x="248.0" y="211.4"/><use href="#t" x="248.0" y="226.7"/><use href="#t" x="248.1" y="231.5"/><use href="#t" x="249.0" y="233.0"/><use href="#t" x="249.0" y="231.1"/><use href="#t" x="249.1" y="233.4"/><use href="#t" x="249.1" y="233.6"/><use href="#t" x="249.1" y="215.7"/><use href="#t" x="250.1" y="228.4"/><use href="#t" x="250.1" y="215.6"/><use href="#t" x="250.1" y="216.5"/><use href="#t" x="250.2" y="233.4"/><use href="#t" x="250.2" y="230.3"/><use href="#t" x="251.1" y="221.9"/><use href="#t" x="251.2" y="220.2"/><use href="#t" x="251.3" y="233.4"/><use href="#t" x="251.3" y="236.1"/><use href="#t" x="251.3" y="228.5"/><use href="#t" x="252.1" y="225.4"/><use href="#t" x="252.2" y="224.5"/><use href="#t" x="252.2" y="217.7"/><use href="#t" x="252.2" y="223.4"/><use href="#t" x="252.3" y="235.3"/><use href="#t" x="252.3" y="214.9"/><use href="#t" x="253.2" y="214.9"/><use href="#t" x="253.2" y="232.8"/><use href="#t" x="253.3" y="215.9"/><use href="#t" x="253.3" y="231.6"/><use href="#t" x="253.3" y="213.6"/><use href="#t" x="254.2" y="224.0"/><use href="#t" x="254.2" y="240.2"/><use href="#t" x="254.3" y="240.1"/><use href="#t" x="254.4" y="228.2"/><use href="#t" x="254.4" y="221.2"/><use href="#t" x="255.1" y="230.3"/><use href="#t" x="255.2" y="239.9"/><use href="#t" x="255.2" y="244.9"/><use href="#t" x="255.3" y="227.9"/><use href="#t" x="255.4" y="219.1"/><use href="#t" x="255.9" y="246.5"/><use href="#t" x="256.1" y="236.1"/><use href="#t" x="256.1" y="225.7"/><use href="#t" x="256.2" y="164.6"/><use href="#t" x="256.2" y="231.0"/><use href="#t" x="256.3" y="232.3"/><use href="#t" x="256.3" y="244.7"/><use href="#t" x="257.2" y="236.2"/><use href="#t" x="257.2" y="245.6"/><use href="#t" x="257.3" y="226.9"/><use href="#t" x="257.3" y="232.4"/><use href="#t" x="257.3" y="229.7"/><use href="#t" x="257.4" y="13.9"/><use href="#t" x="258.0" y="177.3"/><use href="#t" x="258.1" y="248.9"/><use href="#t" x="258.2" y="234.3"/><use href="#t" x="258.2" y="243.9"/><use href="#t" x="258.2" y="240.3"/><use href="#t" x="258.3" y="241.0"/><use href="#t" x="258.8" y="263.0"/><use href="#t" x="259.0" y="235.7"/><use href="#t" x="259.0" y="226.8"/><use href="#t" x="259.1" y="238.0"/><use href="#t" x="259.2" y="220.5"/><use href="#t" x="259.2" y="229.2"/><use href="#t" x="259.2" y="249.0"/><use href="#t" x="259.5" y="253.7"/><use href="#t" x="260.0" y="240.0"/><use href="#t" x="260.1" y="226.2"/><use href="#t" x="260.1" y="250.2"/><use href="#t" x="260.1" y="239.0"/><use href="#t" x="260.2" y="230.8"/><use href="#t" x="260.8" y="18.2"/><use href="#t" x="260.9" y="226.2"/><use href="#t" x="260.9" y="248.0"/><use href="#t" x="261.0" y="245.0"/><use href="#t" x="261.0" y="221.2"/><use href="#t" x="261.1" y="237.0"/><use href="#t" x="261.7" y="250.0"/><use href="#t" x="261.7" y="253.7"/><use href="#t" x="261.8" y="252.0"/><use href="#t" x="261.9" y="218.4"/><use href="#t" x="261.9" y="222.8"/><use href="#t" x="262.0" y="227.9"/><use href="#t" x="262.0" y="230.6"/><use href="#t" x="262.3" y="253.4"/><use href="#t" x="262.7" y="222.0"/><use href="#t" x="262.8" y="250.9"/><use href="#t" x="262.8" y="231.7"/><use href="#t" x="262.8" y="229.2"/><use href="#t" x="262.9" y="225.3"/><use href="#t" x="263.7" y="244.0"/><use href="#t" x="263.7" y="234.7"/><use href="#t" x="263.7" y="245.7"/><use href="#t" x="263.8" y="240.7"/><use href="#t" x="263.8" y="225.1"/><use href="#t" x="264.5" y="243.1"/><use href="#t" x="264.5" y="239.3"/><use href="#t" x="264.5" y="236.6"/><use href="#t" x="264.6" y="244.6"/><use href="#t" x="264.7" y="232.2"/><use href="#t" x="118.0" y="354.6"/><use href="#t" x="118.0" y="352.0"/><use href="#t" x="124.2" y="336.6"/><use href="#t" x="132.4" y="349.6"/><use href="#t" x="138.2" y="353.9"/><use href="#t" x="141.8" y="358.2"/><use href="#t" x="146.8" y="353.9"/><use href="#t" x="156.7" y="355.4"/><use href="#t" x="164.9" y="352.2"/><use href="#t" x="164.9" y="356.0"/><use href="#t" x="165.0" y="347.3"/><use href="#t" x="165.0" y="354.7"/><use href="#t" x="165.8" y="346.6"/><use href="#t" x="166.3" y="346.7"/><use href="#t" x="168.2" y="359.8"/><use href="#t" x="168.2" y="350.7"/><use href="#t" x="168.2" y="350.8"/><use href="#t" x="171.3" y="350.7"/><use href="#t" x="171.4" y="352.6"/><use href="#t" x="171.4" y="355.7"/><use href="#t" x="171.5" y="360.3"/><use href="#t" x="172.3" y="351.6"/><use href="#t" x="172.8" y="351.0"/><use href="#t" x="174.3" y="355.6"/><use href="#t" x="174.3" y="364.9"/><use href="#t" x="174.5" y="351.5"/><use href="#t" x="174.5" y="360.7"/><use href="#t" x="177.2" y="357.0"/><use href="#t" x="177.3" y="365.5"/><use href="#t" x="177.3" y="358.8"/><use href="#t" x="177.3" y="365.8"/><use href="#t" x="180.1" y="356.9"/><use href="#t" x="180.1" y="366.5"/><use href="#t" x="180.1" y="365.7"/><use href="#t" x="182.7" y="363.8"/><use href="#t" x="182.7" y="363.6"/><use href="#t" x="182.8" y="363.5"/><use href="#t" x="185.2" y="370.8"/><use href="#t" x="185.3" y="360.3"/><use href="#t" x="185.3" y="369.1"/><use href="#t" x="185.4" y="366.3"/><use href="#t" x="185.4" y="362.9"/><use href="#t" x="187.7" y="368.7"/><use href="#t" x="187.8" y="369.7"/><use href="#t" x="187.9" y="368.6"/><use href="#t" x="187.9" y="364.1"/><use href="#t" x="190.2" y="366.6"/><use href="#t" x="190.2" y="370.9"/><use href="#t" x="190.2" y="372.5"/><use href="#t" x="190.3" y="366.4"/><use href="#t" x="192.5" y="375.9"/><use href="#t" x="192.5" y="373.3"/><use href="#t" x="192.5" y="374.3"/><use href="#t" x="192.6" y="373.3"/><use href="#t" x="193.3" y="365.3"/><use href="#t" x="194.8" y="371.1"/><use href="#t" x="194.8" y="372.4"/><use href="#t" x="194.8" y="377.8"/><use href="#t" x="194.9" y="370.9"/><use href="#t" x="197.0" y="376.9"/><use href="#t" x="197.0" y="377.8"/><use href="#t" x="197.1" y="371.7"/><use href="#t" x="197.2" y="370.6"/><use href="#t" x="198.4" y="370.4"/><use href="#t" x="199.1" y="372.9"/><use href="#t" x="199.1" y="380.0"/><use href="#t" x="199.2" y="370.1"/><use href="#t" x="199.3" y="374.8"/><use href="#t" x="201.2" y="382.0"/><use href="#t" x="201.3" y="378.0"/><use href="#t" x="201.3" y="371.7"/><use href="#t" x="201.4" y="376.4"/><use href="#t" x="203.2" y="381.8"/><use href="#t" x="203.2" y="384.4"/><use href="#t" x="203.3" y="376.9"/><use href="#t" x="205.1" y="380.9"/><use href="#t" x="205.1" y="383.9"/><use href="#t" x="205.2" y="379.8"/><use href="#t" x="205.2" y="377.1"/><use href="#t" x="207.1" y="383.4"/><use href="#t" x="207.1" y="378.3"/><use href="#t" x="207.1" y="380.2"/><use href="#t" x="207.2" y="387.1"/><use href="#t" x="209.1" y="384.1"/><use href="#t" x="209.1" y="379.6"/><use href="#t" x="209.2" y="380.2"/><use href="#t" x="210.8" y="382.1"/><use href="#t" x="210.8" y="389.9"/><use href="#t" x="210.9" y="389.6"/><use href="#t" x="212.5" y="390.9"/><use href="#t" x="212.6" y="386.5"/><use href="#t" x="212.6" y="385.0"/><use href="#t" x="212.7" y="386.3"/><use href="#t" x="214.3" y="390.8"/><use href="#t" x="214.4" y="385.9"/><use href="#t" x="214.4" y="390.9"/><use href="#t" x="216.0" y="398.1"/><use href="#t" x="216.2" y="391.5"/><use href="#t" x="216.2" y="389.8"/><use href="#t" x="216.2" y="397.5"/><use href="#t" x="216.6" y="380.2"/><use href="#t" x="217.7" y="395.6"/><use href="#t" x="217.8" y="398.0"/><use href="#t" x="217.8" y="400.2"/><use href="#t" x="219.3" y="398.4"/><use href="#t" x="219.3" y="400.1"/><use href="#t" x="219.4" y="392.3"/><use href="#t" x="219.4" y="393.1"/><use href="#t" x="220.9" y="392.3"/><use href="#t" x="221.0" y="393.0"/><use href="#t" x="221.0" y="399.1"/><use href="#t" x="221.7" y="391.7"/><use href="#t" x="221.7" y="408.4"/><use href="#t" x="222.5" y="397.8"/><use href="#t" x="222.6" y="401.7"/><use href="#t" x="222.6" y="397.6"/><use href="#t" x="224.0" y="406.2"/><use href="#t" x="224.0" y="401.2"/><use href="#t" x="224.1" y="405.9"/><use href="#t" x="224.1" y="396.7"/><use href="#t" x="225.6" y="398.5"/><use href="#t" x="225.6" y="406.0"/><use href="#t" x="225.6" y="404.5"/><use href="#t" x="227.0" y="400.7"/><use href="#t" x="227.0" y="406.9"/><use href="#t" x="227.0" y="407.7"/><use href="#t" x="227.1" y="407.1"/><use href="#t" x="228.3" y="399.0"/><use href="#t" x="228.4" y="407.5"/><use href="#t" x="228.4" y="400.5"/><use href="#t" x="228.4" y="399.7"/><use href="#t" x="229.7" y="404.4"/><use href="#t" x="229.8" y="403.1"/><use href="#t" x="229.9" y="403.5"/><use href="#t" x="231.1" y="405.7"/><use href="#t" x="231.2" y="403.5"/><use href="#t" x="231.2" y="412.6"/><use href="#t" x="231.3" y="400.2"/><use href="#t" x="232.5" y="405.2"/><use href="#t" x="232.5" y="415.7"/><use href="#t" x="232.6" y="410.1"/><use href="#t" x="232.6" y="403.0"/><use href="#t" x="233.8" y="415.5"/><use href="#t" x="233.8" y="416.1"/><use href="#t" x="234.0" y="413.4"/><use href="#t" x="235.2" y="408.3"/><use href="#t" x="235.2" y="406.6"/><use href="#t" x="235.3" y="412.6"/><use href="#t" x="236.5" y="418.5"/><use href="#t" x="236.5" y="416.9"/><use href="#t" x="236.5" y="418.0"/><use href="#t" x="236.6" y="415.2"/><use href="#t" x="237.7" y="409.0"/><use href="#t" x="237.7" y="422.3"/><use href="#t" x="237.8" y="417.7"/><use href="#t" x="237.9" y="418.7"/><use href="#t" x="238.9" y="414.1"/><use href="#t" x="239.0" y="421.7"/><use href="#t" x="239.1" y="416.5"/><use href="#t" x="240.1" y="434.7"/><use href="#t" x="240.2" y="412.5"/><use href="#t" x="240.2" y="424.1"/><use href="#t" x="240.3" y="422.0"/><use href="#t" x="240.8" y="446.2"/><use href="#t" x="241.4" y="429.0"/><use href="#t" x="241.5" y="425.5"/><use href="#t" x="241.6" y="417.7"/><use href="#t" x="241.6" y="415.0"/><use href="#t" x="241.6" y="445.9"/><use href="#t" x="242.3" y="408.3"/><use href="#t" x="242.6" y="415.0"/><use href="#t" x="242.6" y="414.0"/><use href="#t" x="242.7" y="386.3"/><use href="#t" x="242.7" y="420.7"/><use href="#t" x="242.7" y="420.7"/><use href="#t" x="243.3" y="392.1"/><use href="#t" x="243.5" y="405.4"/><use href="#t" x="243.7" y="425.3"/><use href="#t" x="243.8" y="420.5"/><use href="#t" x="243.8" y="422.0"/><use href="#t" x="244.0" y="401.9"/><use href="#t" x="244.5" y="439.0"/><use href="#t" x="244.6" y="406.6"/><use href="#t" x="244.8" y="422.6"/><use href="#t" x="244.8" y="418.5"/><use href="#t" x="244.9" y="433.9"/><use href="#t" x="245.0" y="422.4"/><use href="#t" x="245.2" y="409.5"/><use href="#t" x="246.0" y="439.4"/><use href="#t" x="246.0" y="418.7"/><use href="#t" x="246.1" y="428.3"/><use href="#t" x="246.1" y="432.5"/><use href="#t" x="246.2" y="434.7"/><use href="#t" x="247.1" y="430.3"/><use href="#t" x="247.2" y="429.1"/><use href="#t" x="247.2" y="428.2"/><use href="#t" x="247.3" y="421.8"/><use href="#t" x="248.2" y="431.4"/><use href="#t" x="248.4" y="437.7"/><use href="#t" x="248.4" y="431.4"/><use href="#t" x="249.4" y="427.1"/><use href="#t" x="249.4" y="437.3"/><use href="#t" x="249.5" y="436.4"/><use href="#t" x="249.5" y="427.6"/><use href="#t" x="250.4" y="434.4"/><use href="#t" x="250.5" y="429.3"/><use href="#t" x="250.5" y="433.6"/><use href="#t" x="250.5" y="433.2"/><use href="#t" x="251.4" y="441.7"/><use href="#t" x="251.5" y="435.8"/><use href="#t" x="251.5" y="433.1"/><use href="#t" x="251.6" y="437.4"/><use href="#t" x="252.4" y="442.2"/><use href="#t" x="252.6" y="435.6"/><use href="#t" x="252.6" y="432.2"/><use href="#t" x="253.2" y="451.7"/><use href="#t" x="253.4" y="440.9"/><use href="#t" x="253.5" y="450.4"/><use href="#t" x="253.5" y="432.1"/><use href="#t" x="253.6" y="431.9"/><use href="#t" x="253.6" y="438.6"/><use href="#t" x="254.3" y="443.5"/><use href="#t" x="254.5" y="439.2"/><use href="#t" x="254.6" y="433.4"/><use href="#t" x="254.7" y="441.9"/><use href="#t" x="254.7" y="438.9"/><use href="#t" x="255.0" y="427.4"/><use href="#t" x="256.1" y="459.6"/><use href="#t" x="256.2" y="418.1"/><use href="#t" x="256.8" y="413.5"/><use href="#t" x="257.3" y="410.0"/><use href="#t" x="257.3" y="422.7"/><use href="#t" x="257.5" y="376.2"/><use href="#t" x="257.5" y="409.1"/><use href="#t" x="257.7" y="370.4"/><use href="#t" x="258.2" y="390.3"/><use href="#t" x="258.2" y="395.4"/><use href="#t" x="258.5" y="415.8"/><use href="#t" x="258.5" y="397.3"/><use href="#t" x="259.0" y="476.2"/><use href="#t" x="259.6" y="397.3"/><use href="#t" x="259.7" y="425.1"/><use href="#t" x="260.2" y="419.3"/><use href="#t" x="260.4" y="464.3"/><use href="#t" x="261.8" y="435.8"/><use href="#t" x="262.0" y="429.1"/><use href="#t" x="262.5" y="433.2"/><use href="#t" x="262.6" y="465.4"/><use href="#t" x="263.1" y="421.6"/><use href="#t" x="263.1" y="436.6"/><use href="#t" x="263.3" y="438.7"/><use href="#t" x="263.7" y="438.9"/>
<use href="#s" x="118.0" y="93.2"/><use href="#s" x="118.0" y="98.1"/><use href="#s" x="120.1" y="84.0"/><use href="#s" x="123.7" y="95.8"/><use href="#s" x="123.7" y="100.1"/><use href="#s" x="132.2" y="87.7"/><use href="#s" x="132.2" y="96.7"/><use href="#s" x="133.6" y="93.2"/><use href="#s" x="134.1" y="100.6"/><use href="#s" x="137.9" y="95.5"/><use href="#s" x="138.3" y="97.5"/><use href="#s" x="141.0" y="100.6"/><use href="#s" x="143.5" y="99.3"/><use href="#s" x="144.0" y="102.7"/><use href="#s" x="146.9" y="88.5"/><use href="#s" x="146.9" y="92.3"/><use href="#s" x="149.7" y="96.1"/><use href="#s" x="150.9" y="101.0"/><use href="#s" x="150.9" y="104.1"/><use href="#s" x="154.4" y="100.1"/><use href="#s" x="155.3" y="97.2"/><use href="#s" x="157.9" y="94.1"/><use href="#s" x="157.9" y="107.1"/><use href="#s" x="158.7" y="101.0"/><use href="#s" x="160.1" y="92.3"/><use href="#s" x="160.1" y="97.5"/><use href="#s" x="160.1" y="105.8"/><use href="#s" x="160.5" y="102.7"/><use href="#s" x="161.4" y="100.8"/><use href="#s" x="161.4" y="105.9"/><use href="#s" x="162.9" y="93.7"/><use href="#s" x="163.1" y="97.0"/><use href="#s" x="163.1" y="107.7"/><use href="#s" x="163.1" y="96.8"/><use href="#s" x="166.3" y="108.5"/><use href="#s" x="166.4" y="105.0"/><use href="#s" x="166.4" y="102.7"/><use href="#s" x="166.5" y="99.4"/><use href="#s" x="166.5" y="105.4"/><use href="#s" x="169.5" y="106.7"/><use href="#s" x="169.5" y="110.8"/><use href="#s" x="169.5" y="102.2"/><use href="#s" x="169.6" y="110.0"/><use href="#s" x="169.6" y="108.1"/><use href="#s" x="172.5" y="99.7"/><use href="#s" x="172.6" y="104.3"/><use href="#s" x="172.7" y="109.4"/><use href="#s" x="172.7" y="109.5"/><use href="#s" x="172.8" y="100.9"/><use href="#s" x="175.5" y="114.0"/><use href="#s" x="175.5" y="114.8"/><use href="#s" x="175.6" y="109.6"/><use href="#s" x="175.7" y="113.0"/><use href="#s" x="175.7" y="113.7"/><use href="#s" x="178.3" y="104.0"/><use href="#s" x="178.4" y="103.8"/><use href="#s" x="178.4" y="111.8"/><use href="#s" x="178.5" y="115.1"/><use href="#s" x="178.5" y="111.9"/><use href="#s" x="181.1" y="110.3"/><use href="#s" x="181.1" y="107.8"/><use href="#s" x="181.1" y="107.0"/><use href="#s" x="181.2" y="114.7"/><use href="#s" x="181.3" y="108.8"/><use href="#s" x="183.8" y="113.6"/><use href="#s" x="183.8" y="105.9"/><use href="#s" x="183.9" y="118.3"/><use href="#s" x="183.9" y="110.7"/><use href="#s" x="183.9" y="112.0"/><use href="#s" x="186.3" y="109.5"/><use href="#s" x="186.3" y="121.6"/><use href="#s" x="186.4" y="110.0"/><use href="#s" x="186.5" y="108.3"/><use href="#s" x="188.8" y="112.7"/><use href="#s" x="188.8" y="111.2"/><use href="#s" x="188.9" y="115.8"/><use href="#s" x="188.9" y="113.6"/><use href="#s" x="188.9" y="112.3"/><use href="#s" x="191.1" y="119.7"/><use href="#s" x="191.1" y="117.7"/><use href="#s" x="191.2" y="115.6"/><use href="#s" x="191.3" y="122.0"/><use href="#s" x="191.3" y="122.0"/><use href="#s" x="193.4" y="125.2"/><use href="#s" x="193.4" y="125.2"/><use href="#s" x="193.5" y="115.2"/><use href="#s" x="193.5" y="125.4"/><use href="#s" x="193.6" y="117.7"/><use href="#s" x="195.7" y="118.7"/><use href="#s" x="195.7" y="123.3"/><use href="#s" x="195.8" y="120.7"/><use href="#s" x="195.8" y="126.2"/><use href="#s" x="195.8" y="124.9"/><use href="#s" x="197.9" y="128.4"/><use href="#s" x="197.9" y="118.5"/><use href="#s" x="197.9" y="118.2"/><use href="#s" x="197.9" y="117.6"/><use href="#s" x="198.0" y="126.8"/><use href="#s" x="200.0" y="129.4"/><use href="#s" x="200.0" y="119.7"/><use href="#s" x="200.0" y="119.8"/><use href="#s" x="200.1" y="122.1"/><use href="#s" x="200.2" y="120.2"/><use href="#s" x="202.1" y="121.0"/><use href="#s" x="202.1" y="129.4"/><use href="#s" x="202.1" y="122.2"/><use href="#s" x="202.2" y="132.7"/><use href="#s" x="202.2" y="121.0"/><use href="#s" x="204.0" y="127.5"/><use href="#s" x="204.1" y="124.2"/><use href="#s" x="204.1" y="122.0"/><use href="#s" x="204.1" y="127.9"/><use href="#s" x="204.2" y="131.6"/><use href="#s" x="206.0" y="128.6"/><use href="#s" x="206.0" y="134.4"/><use href="#s" x="206.1" y="128.4"/><use href="#s" x="206.1" y="130.4"/><use href="#s" x="206.2" y="132.2"/><use href="#s" x="207.9" y="132.6"/><use href="#s" x="207.9" y="130.6"/><use href="#s" x="208.0" y="133.2"/><use href="#s" x="208.0" y="130.2"/><use href="#s" x="208.0" y="133.4"/><use href="#s" x="208.9" y="133.8"/><use href="#s" x="209.0" y="134.7"/><use href="#s" x="209.0" y="133.7"/><use href="#s" x="209.0" y="132.5"/><use href="#s" x="209.0" y="131.1"/><use href="#s" x="209.1" y="134.1"/><use href="#s" x="210.7" y="138.0"/><use href="#s" x="210.7" y="135.0"/><use href="#s" x="210.7" y="135.1"/><use href="#s" x="210.8" y="136.3"/><use href="#s" x="210.8" y="135.3"/><use href="#s" x="210.9" y="136.7"/><use href="#s" x="212.5" y="135.6"/><use href="#s" x="212.6" y="139.0"/><use href="#s" x="212.6" y="134.5"/><use href="#s" x="212.7" y="135.8"/><use href="#s" x="212.7" y="136.0"/><use href="#s" x="212.7" y="133.9"/><use href="#s" x="214.2" y="137.6"/><use href="#s" x="214.3" y="138.6"/><use href="#s" x="214.3" y="136.5"/><use href="#s" x="214.3" y="139.9"/><use href="#s" x="214.3" y="137.7"/><use href="#s" x="214.5" y="140.2"/><use href="#s" x="216.0" y="139.6"/><use href="#s" x="216.1" y="140.2"/><use href="#s" x="216.1" y="142.9"/><use href="#s" x="216.1" y="139.3"/><use href="#s" x="216.1" y="137.5"/><use href="#s" x="216.2" y="138.3"/><use href="#s" x="217.7" y="140.9"/><use href="#s" x="217.7" y="140.8"/><use href="#s" x="217.7" y="145.3"/><use href="#s" x="217.7" y="141.1"/><use href="#s" x="217.8" y="139.8"/><use href="#s" x="217.8" y="141.6"/><use href="#s" x="219.3" y="143.3"/><use href="#s" x="219.3" y="146.3"/><use href="#s" x="219.3" y="143.5"/><use href="#s" x="219.4" y="144.5"/><use href="#s" x="219.4" y="141.1"/><use href="#s" x="219.4" y="148.5"/><use href="#s" x="220.8" y="143.2"/><use href="#s" x="220.8" y="145.1"/><use href="#s" x="220.8" y="149.4"/><use href="#s" x="220.9" y="149.7"/><use href="#s" x="221.0" y="150.7"/><use href="#s" x="221.0" y="149.7"/><use href="#s" x="222.4" y="147.7"/><use href="#s" x="222.5" y="146.8"/><use href="#s" x="222.5" y="149.8"/><use href="#s" x="222.5" y="152.2"/><use href="#s" x="222.6" y="146.3"/><use href="#s" x="222.6" y="150.3"/><use href="#s" x="223.9" y="153.5"/><use href="#s" x="223.9" y="148.9"/><use href="#s" x="224.0" y="152.7"/><use href="#s" x="224.0" y="147.9"/><use href="#s" x="224.0" y="152.3"/><use href="#s" x="224.0" y="153.9"/><use href="#s" x="225.4" y="152.3"/><use href="#s" x="225.5" y="152.5"/><use href="#s" x="225.5" y="152.3"/><use href="#s" x="225.6" y="153.9"/><use href="#s" x="225.6" y="148.6"/><use href="#s" x="225.6" y="152.9"/><use href="#s" x="226.8" y="155.4"/><use href="#s" x="226.9" y="157.8"/><use href="#s" x="227.0" y="158.2"/><use href="#s" x="227.0" y="151.0"/><use href="#s" x="227.0" y="155.2"/><use href="#s" x="227.1" y="153.7"/><use href="#s" x="228.3" y="159.3"/><use href="#s" x="228.4" y="153.8"/><use href="#s" x="228.4" y="155.0"/><use href="#s" x="228.4" y="157.8"/><use href="#s" x="228.5" y="156.3"/><use href="#s" x="228.5" y="154.8"/><use href="#s" x="229.8" y="160.1"/><use href="#s" x="229.8" y="157.0"/><use href="#s" x="229.8" y="155.9"/><use href="#s" x="229.8" y="161.6"/><use href="#s" x="229.9" y="158.2"/><use href="#s" x="229.9" y="156.1"/><use href="#s" x="231.1" y="155.2"/><use href="#s" x="231.1" y="155.6"/><use href="#s" x="231.2" y="162.3"/><use href="#s" x="231.2" y="157.6"/><use href="#s" x="231.2" y="155.5"/><use href="#s" x="231.3" y="160.3"/><use href="#s" x="232.6" y="161.4"/><use href="#s" x="232.6" y="161.4"/><use href="#s" x="232.6" y="158.2"/><use href="#s" x="232.6" y="161.3"/><use href="#s" x="232.6" y="161.6"/><use href="#s" x="232.6" y="162.9"/><use href="#s" x="233.8" y="159.3"/><use href="#s" x="233.8" y="164.0"/><use href="#s" x="233.8" y="162.4"/><use href="#s" x="233.8" y="163.1"/><use href="#s" x="233.9" y="164.5"/><use href="#s" x="234.0" y="164.1"/><use href="#s" x="235.1" y="164.0"/><use href="#s" x="235.1" y="167.0"/><use href="#s" x="235.1" y="162.7"/><use href="#s" x="235.2" y="162.8"/><use href="#s" x="235.3" y="160.2"/><use href="#s" x="235.3" y="164.0"/><use href="#s" x="236.4" y="161.8"/><use href="#s" x="236.4" y="164.1"/><use href="#s" x="236.4" y="166.2"/><use href="#s" x="236.4" y="160.6"/><use href="#s" x="236.5" y="169.1"/><use href="#s" x="236.6" y="165.7"/><use href="#s" x="237.6" y="163.5"/><use href="#s" x="237.6" y="171.6"/><use href="#s" x="237.6" y="168.7"/><use href="#s" x="237.6" y="170.6"/><use href="#s" x="237.8" y="161.7"/><use href="#s" x="237.8" y="164.0"/><use href="#s" x="238.9" y="171.6"/><use href="#s" x="238.9" y="171.8"/><use href="#s" x="239.0" y="170.5"/><use href="#s" x="239.1" y="171.6"/><use href="#s" x="239.1" y="168.3"/><use href="#s" x="239.1" y="165.6"/><use href="#s" x="240.1" y="174.3"/><use href="#s" x="240.2" y="164.4"/><use href="#s" x="240.2" y="164.1"/><use href="#s" x="240.2" y="171.9"/><use href="#s" x="240.2" y="176.2"/><use href="#s" x="240.3" y="173.1"/><use href="#s" x="241.4" y="173.5"/><use href="#s" x="241.4" y="174.5"/><use href="#s" x="241.5" y="170.2"/><use href="#s" x="241.5" y="179.5"/><use href="#s" x="241.5" y="170.6"/><use href="#s" x="241.5" y="166.7"/><use href="#s" x="242.6" y="179.4"/><use href="#s" x="242.6" y="180.5"/><use href="#s" x="242.6" y="170.8"/><use href="#s" x="242.6" y="179.5"/><use href="#s" x="242.7" y="181.9"/><use href="#s" x="242.7" y="175.7"/><use href="#s" x="243.7" y="166.8"/><use href="#s" x="243.7" y="180.9"/><use href="#s" x="243.8" y="174.2"/><use href="#s" x="243.9" y="167.5"/><use href="#s" x="243.9" y="181.1"/><use href="#s" x="243.9" y="177.3"/><use href="#s" x="244.8" y="182.5"/><use href="#s" x="244.9" y="184.6"/><use href="#s" x="244.9" y="169.5"/><use href="#s" x="244.9" y="183.8"/><use href="#s" x="245.0" y="182.7"/><use href="#s" x="245.0" y="172.9"/><use href="#s" x="246.0" y="177.9"/><use href="#s" x="246.0" y="186.7"/><use href="#s" x="246.0" y="184.1"/><use href="#s" x="246.1" y="180.6"/><use href="#s" x="246.1" y="173.9"/><use href="#s" x="246.1" y="170.7"/><use href="#s" x="247.1" y="174.0"/><use href="#s" x="247.1" y="181.3"/><use href="#s" x="247.1" y="183.4"/><use href="#s" x="247.2" y="180.1"/><use href="#s" x="247.2" y="174.7"/><use href="#s" x="247.3" y="187.0"/><use href="#s" x="248.1" y="174.5"/><use href="#s" x="248.2" y="185.9"/><use href="#s" x="248.2" y="182.5"/><use href="#s" x="248.2" y="189.6"/><use href="#s" x="248.3" y="179.0"/><use href="#s" x="248.3" y="173.7"/><use href="#s" x="249.2" y="173.5"/><use href="#s" x="249.4" y="181.6"/><use href="#s" x="249.4" y="177.7"/><use href="#s" x="249.4" y="186.5"/><use href="#s" x="249.4" y="190.3"/><use href="#s" x="249.5" y="180.6"/><use href="#s" x="250.3" y="178.7"/><use href="#s" x="250.3" y="175.8"/><use href="#s" x="250.3" y="190.0"/><use href="#s" x="250.3" y="177.8"/><use href="#s" x="250.4" y="184.6"/><use href="#s" x="250.5" y="183.9"/><use href="#s" x="250.5" y="182.2"/><use href="#s" x="251.4" y="192.9"/><use href="#s" x="251.4" y="175.9"/><use href="#s" x="251.4" y="192.3"/><use href="#s" x="251.5" y="182.2"/><use href="#s" x="251.5" y="185.3"/><use href="#s" x="251.5" y="192.3"/><use href="#s" x="251.6" y="181.5"/><use href="#s" x="251.6" y="178.0"/><use href="#s" x="252.4" y="191.5"/><use href="#s" x="252.4" y="177.0"/><use href="#s" x="252.5" y="188.5"/><use href="#s" x="252.6" y="190.5"/><use href="#s" x="252.6" y="186.9"/><use href="#s" x="252.6" y="190.0"/><use href="#s" x="252.6" y="188.0"/><use href="#s" x="253.4" y="180.5"/><use href="#s" x="253.5" y="194.6"/><use href="#s" x="253.5" y="180.0"/><use href="#s" x="253.5" y="183.0"/><use href="#s" x="253.5" y="179.2"/><use href="#s" x="253.6" y="179.6"/><use href="#s" x="253.6" y="177.1"/><use href="#s" x="253.6" y="194.7"/><use href="#s" x="254.4" y="182.0"/><use href="#s" x="254.4" y="190.0"/><use href="#s" x="254.5" y="186.5"/><use href="#s" x="254.5" y="180.4"/><use href="#s" x="254.5" y="193.9"/><use href="#s" x="254.6" y="194.2"/><use href="#s" x="254.6" y="179.5"/><use href="#s" x="255.4" y="198.4"/><use href="#s" x="255.4" y="196.9"/><use href="#s" x="255.4" y="189.6"/><use href="#s" x="255.4" y="186.7"/><use href="#s" x="255.4" y="185.1"/><use href="#s" x="255.5" y="196.2"/><use href="#s" x="255.5" y="188.3"/><use href="#s" x="255.6" y="196.7"/><use href="#s" x="255.6" y="183.8"/><use href="#s" x="256.4" y="200.0"/><use href="#s" x="256.4" y="198.2"/><use href="#s" x="256.4" y="184.2"/><use href="#s" x="256.5" y="189.0"/><use href="#s" x="256.5" y="180.7"/><use href="#s" x="256.5" y="194.5"/><use href="#s" x="256.5" y="196.3"/><use href="#s" x="256.6" y="200.5"/><use href="#s" x="256.6" y="186.5"/><use href="#s" x="257.4" y="183.4"/><use href="#s" x="257.4" y="179.0"/><use href="#s" x="257.4" y="182.0"/><use href="#s" x="257.4" y="191.1"/><use href="#s" x="257.4" y="190.4"/><use href="#s" x="257.5" y="183.9"/><use href="#s" x="257.5" y="180.9"/><use href="#s" x="257.5" y="196.8"/><use href="#s" x="257.6" y="178.9"/><use href="#s" x="257.6" y="189.0"/><use href="#s" x="257.6" y="183.0"/><use href="#s" x="258.3" y="191.9"/><use href="#s" x="258.3" y="197.3"/><use href="#s" x="258.3" y="185.1"/><use href="#s" x="258.4" y="200.9"/><use href="#s" x="258.4" y="199.4"/><use href="#s" x="258.4" y="197.6"/><use href="#s" x="258.4" y="201.8"/><use href="#s" x="258.5" y="199.4"/><use href="#s" x="258.5" y="194.7"/><use href="#s" x="258.5" y="176.2"/><use href="#s" x="258.5" y="200.2"/><use href="#s" x="259.3" y="196.6"/><use href="#s" x="259.3" y="200.1"/><use href="#s" x="259.3" y="194.8"/><use href="#s" x="259.3" y="202.7"/><use href="#s" x="259.4" y="202.0"/><use href="#s" x="259.4" y="186.9"/><use href="#s" x="259.4" y="199.2"/><use href="#s" x="259.4" y="194.9"/><use href="#s" x="259.4" y="212.2"/><use href="#s" x="259.5" y="199.3"/><use href="#s" x="259.5" y="202.9"/><use href="#s" x="260.2" y="197.6"/><use href="#s" x="260.2" y="186.6"/><use href="#s" x="260.2" y="189.9"/><use href="#s" x="260.2" y="201.2"/><use href="#s" x="260.2" y="201.1"/><use href="#s" x="260.2" y="206.9"/><use href="#s" x="260.3" y="198.5"/><use href="#s" x="260.3" y="197.1"/><use href="#s" x="260.3" y="186.3"/><use href="#s" x="260.4" y="191.4"/><use href="#s" x="261.1" y="203.5"/><use href="#s" x="261.2" y="206.6"/><use href="#s" x="261.2" y="199.0"/><use href="#s" x="261.2" y="208.2"/><use href="#s" x="261.2" y="191.0"/><use href="#s" x="261.2" y="191.0"/><use href="#s" x="261.3" y="191.3"/><use href="#s" x="261.3" y="200.5"/><use href="#s" x="261.3" y="191.9"/><use href="#s" x="262.1" y="195.1"/><use href="#s" x="262.1" y="206.7"/><use href="#s" x="262.1" y="195.2"/><use href="#s" x="262.2" y="191.0"/><use href="#s" x="262.2" y="208.1"/><use href="#s" x="262.2" y="207.5"/><use href="#s" x="262.3" y="207.3"/><use href="#s" x="262.3" y="210.6"/><use href="#s" x="262.3" y="198.4"/><use href="#s" x="262.3" y="199.3"/><use href="#s" x="262.9" y="202.5"/><use href="#s" x="263.0" y="192.8"/><use href="#s" x="263.1" y="199.4"/><use href="#s" x="263.1" y="192.0"/><use href="#s" x="263.1" y="197.2"/><use href="#s" x="263.1" y="205.4"/><use href="#s" x="263.1" y="210.9"/><use href="#s" x="263.2" y="208.5"/><use href="#s" x="263.2" y="194.4"/><use href="#s" x="263.8" y="195.5"/><use href="#s" x="263.9" y="204.9"/><use href="#s" x="263.9" y="206.8"/><use href="#s" x="263.9" y="214.4"/><use href="#s" x="263.9" y="204.6"/><use href="#s" x="263.9" y="198.8"/><use href="#s" x="263.9" y="214.5"/><use href="#s" x="264.0" y="195.4"/><use href="#s" x="264.0" y="199.7"/><use href="#s" x="264.0" y="205.0"/><use href="#s" x="264.7" y="199.8"/><use href="#s" x="264.7" y="209.3"/><use href="#s" x="264.8" y="199.8"/><use href="#s" x="264.8" y="203.6"/><use href="#s" x="264.8" y="205.0"/><use href="#s" x="264.8" y="206.0"/><use href="#s" x="264.8" y="210.7"/><use href="#s" x="264.8" y="208.3"/><use href="#s" x="264.8" y="206.9"/><use href="#s" x="264.9" y="206.8"/><use href="#s" x="265.6" y="199.3"/><use href="#s" x="265.6" y="198.1"/><use href="#s" x="265.6" y="216.0"/><use href="#s" x="265.7" y="195.8"/><use href="#s" x="265.7" y="197.0"/><use href="#s" x="265.7" y="216.2"/><use href="#s" x="265.7" y="208.8"/><use href="#s" x="265.7" y="206.0"/><use href="#s" x="265.8" y="202.5"/><use href="#s" x="265.8" y="202.3"/><use href="#s" x="266.5" y="214.6"/><use href="#s" x="266.5" y="204.7"/><use href="#s" x="266.6" y="213.1"/><use href="#s" x="266.6" y="209.2"/><use href="#s" x="266.6" y="214.7"/><use href="#s" x="266.6" y="196.5"/><use href="#s" x="266.6" y="208.1"/><use href="#s" x="266.6" y="217.4"/><use href="#s" x="266.6" y="199.5"/><use href="#s" x="266.7" y="213.9"/><use href="#s" x="267.3" y="215.6"/><use href="#s" x="267.3" y="201.7"/><use href="#s" x="267.4" y="206.9"/><use href="#s" x="267.4" y="212.6"/><use href="#s" x="267.4" y="211.7"/><use href="#s" x="267.4" y="209.8"/><use href="#s" x="267.4" y="208.6"/><use href="#s" x="267.4" y="207.0"/><use href="#s" x="267.5" y="217.3"/><use href="#s" x="267.5" y="217.2"/><use href="#s" x="267.5" y="209.8"/><use href="#s" x="268.1" y="222.1"/><use href="#s" x="268.2" y="203.0"/><use href="#s" x="268.2" y="224.4"/><use href="#s" x="268.2" y="218.4"/><use href="#s" x="268.3" y="198.8"/><use href="#s" x="268.3" y="213.0"/><use href="#s" x="268.3" y="211.4"/><use href="#s" x="268.3" y="206.2"/><use href="#s" x="268.3" y="199.9"/><use href="#s" x="268.3" y="210.9"/><use href="#s" x="268.4" y="220.1"/><use href="#s" x="269.0" y="202.9"/><use href="#s" x="269.0" y="226.0"/><use href="#s" x="269.0" y="200.8"/><use href="#s" x="269.1" y="225.1"/><use href="#s" x="269.1" y="217.0"/><use href="#s" x="269.1" y="209.3"/><use href="#s" x="269.1" y="208.1"/><use href="#s" x="269.1" y="210.4"/><use href="#s" x="269.1" y="212.9"/><use href="#s" x="269.1" y="225.5"/><use href="#s" x="269.2" y="214.2"/><use href="#s" x="269.2" y="207.9"/><use href="#s" x="269.8" y="210.9"/><use href="#s" x="269.8" y="213.3"/><use href="#s" x="269.8" y="221.4"/><use href="#s" x="269.9" y="216.1"/><use href="#s" x="269.9" y="200.1"/><use href="#s" x="269.9" y="207.2"/><use href="#s" x="269.9" y="204.1"/><use href="#s" x="269.9" y="227.3"/><use href="#s" x="270.0" y="218.6"/><use href="#s" x="270.0" y="227.2"/><use href="#s" x="270.0" y="202.0"/><use href="#s" x="270.3" y="188.0"/><use href="#s" x="270.3" y="191.5"/><use href="#s" x="270.3" y="195.0"/><use href="#s" x="270.6" y="221.8"/><use href="#s" x="270.6" y="203.2"/><use href="#s" x="270.6" y="202.6"/><use href="#s" x="270.6" y="219.2"/><use href="#s" x="270.6" y="199.8"/><use href="#s" x="270.7" y="216.4"/><use href="#s" x="270.7" y="214.2"/><use href="#s" x="270.7" y="224.2"/><use href="#s" x="270.7" y="207.4"/><use href="#s" x="270.8" y="214.9"/><use href="#s" x="270.8" y="215.2"/><use href="#s" x="271.4" y="211.9"/><use href="#s" x="271.4" y="224.4"/><use href="#s" x="271.4" y="208.4"/><use href="#s" x="271.4" y="211.0"/><use href="#s" x="271.4" y="218.9"/><use href="#s" x="271.5" y="229.0"/><use href="#s" x="271.5" y="210.9"/><use href="#s" x="271.5" y="227.3"/><use href="#s" x="271.5" y="226.9"/><use href="#s" x="271.6" y="210.1"/><use href="#s" x="271.6" y="200.9"/><use href="#s" x="272.2" y="208.4"/><use href="#s" x="272.2" y="211.9"/><use href="#s" x="272.2" y="223.0"/><use href="#s" x="272.2" y="230.7"/><use href="#s" x="272.2" y="225.9"/><use href="#s" x="272.3" y="208.4"/><use href="#s" x="272.4" y="215.8"/><use href="#s" x="272.4" y="229.5"/><use href="#s" x="272.4" y="210.4"/><use href="#s" x="272.4" y="210.6"/><use href="#s" x="272.4" y="216.1"/><use href="#s" x="272.4" y="219.4"/><use href="#s" x="273.0" y="223.6"/><use href="#s" x="273.0" y="202.8"/><use href="#s" x="273.0" y="211.7"/><use href="#s" x="273.0" y="208.6"/><use href="#s" x="273.0" y="209.9"/><use href="#s" x="273.0" y="227.5"/><use href="#s" x="273.1" y="213.2"/><use href="#s" x="273.1" y="204.8"/><use href="#s" x="273.1" y="204.4"/><use href="#s" x="273.1" y="201.8"/><use href="#s" x="273.2" y="227.8"/><use href="#s" x="273.2" y="209.4"/><use href="#s" x="273.8" y="230.3"/><use href="#s" x="273.8" y="215.9"/><use href="#s" x="273.8" y="221.3"/><use href="#s" x="273.8" y="217.7"/><use href="#s" x="273.8" y="213.0"/><use href="#s" x="273.8" y="224.6"/><use href="#s" x="273.9" y="218.0"/><use href="#s" x="273.9" y="231.3"/><use href="#s" x="273.9" y="212.5"/><use href="#s" x="273.9" y="209.7"/><use href="#s" x="274.0" y="207.5"/><use href="#s" x="274.0" y="213.3"/><use href="#s" x="274.5" y="224.1"/><use href="#s" x="274.5" y="208.3"/><use href="#s" x="274.6" y="203.2"/><use href="#s" x="274.6" y="226.0"/><use href="#s" x="274.6" y="218.2"/><use href="#s" x="274.6" y="202.5"/><use href="#s" x="274.6" y="230.9"/><use href="#s" x="274.6" y="220.4"/><use href="#s" x="274.6" y="211.4"/><use href="#s" x="274.6" y="223.9"/><use href="#s" x="274.7" y="228.1"/><use href="#s" x="274.7" y="214.7"/><use href="#s" x="275.3" y="201.5"/><use href="#s" x="275.3" y="223.5"/><use href="#s" x="275.3" y="206.1"/><use href="#s" x="275.3" y="226.1"/><use href="#s" x="275.3" y="204.9"/><use href="#s" x="275.3" y="201.5"/><use href="#s" x="275.4" y="224.8"/><use href="#s" x="275.4" y="231.7"/><use href="#s" x="275.4" y="211.3"/><use href="#s" x="275.4" y="215.4"/><use href="#s" x="275.4" y="201.1"/><use href="#s" x="275.4" y="227.4"/><use href="#s" x="275.5" y="204.3"/><use href="#s" x="276.0" y="223.2"/><use href="#s" x="276.1" y="209.3"/><use href="#s" x="276.1" y="230.2"/><use href="#s" x="276.1" y="229.6"/><use href="#s" x="276.1" y="226.1"/><use href="#s" x="276.1" y="209.7"/><use href="#s" x="276.2" y="203.3"/><use href="#s" x="276.2" y="221.8"/><use href="#s" x="276.2" y="215.0"/><use href="#s" x="276.2" y="234.9"/><use href="#s" x="276.2" y="200.0"/><use href="#s" x="276.2" y="206.9"/><use href="#s" x="276.2" y="201.6"/><use href="#s" x="276.7" y="167.9"/><use href="#s" x="276.8" y="229.6"/><use href="#s" x="276.8" y="210.9"/><use href="#s" x="276.8" y="236.1"/><use href="#s" x="276.8" y="221.2"/><use href="#s" x="276.9" y="236.8"/><use href="#s" x="276.9" y="224.4"/><use href="#s" x="276.9" y="216.7"/><use href="#s" x="276.9" y="210.2"/><use href="#s" x="276.9" y="237.7"/><use href="#s" x="276.9" y="236.2"/><use href="#s" x="276.9" y="202.1"/><use href="#s" x="277.0" y="227.3"/><use href="#s" x="277.0" y="228.7"/><use href="#s" x="277.0" y="168.1"/><use href="#s" x="277.3" y="197.0"/><use href="#s" x="277.3" y="200.5"/><use href="#s" x="277.5" y="232.9"/><use href="#s" x="277.5" y="235.1"/><use href="#s" x="277.6" y="230.1"/><use href="#s" x="277.6" y="226.6"/><use href="#s" x="277.6" y="213.9"/><use href="#s" x="277.6" y="208.0"/><use href="#s" x="277.6" y="222.3"/><use href="#s" x="277.6" y="214.2"/><use href="#s" x="277.6" y="209.6"/><use href="#s" x="277.6" y="232.3"/><use href="#s" x="277.7" y="226.4"/><use href="#s" x="277.7" y="205.4"/><use href="#s" x="277.7" y="106.2"/><use href="#s" x="277.7" y="218.3"/><use href="#s" x="277.7" y="217.6"/><use href="#s" x="278.2" y="222.0"/><use href="#s" x="278.2" y="203.7"/><use href="#s" x="278.3" y="218.3"/><use href="#s" x="278.3" y="215.0"/><use href="#s" x="278.3" y="217.8"/><use href="#s" x="278.3" y="214.9"/><use href="#s" x="278.3" y="203.2"/><use href="#s" x="278.4" y="213.5"/><use href="#s" x="278.4" y="205.1"/><use href="#s" x="278.4" y="239.0"/><use href="#s" x="278.4" y="208.5"/><use href="#s" x="278.4" y="204.1"/><use href="#s" x="278.4" y="239.4"/><use href="#s" x="278.9" y="255.1"/><use href="#s" x="279.0" y="207.6"/><use href="#s" x="279.0" y="236.6"/><use href="#s" x="279.0" y="213.4"/><use href="#s" x="279.0" y="211.8"/><use href="#s" x="279.1" y="229.8"/><use href="#s" x="279.1" y="214.3"/><use href="#s" x="279.1" y="222.8"/><use href="#s" x="279.1" y="226.2"/><use href="#s" x="279.1" y="236.9"/><use href="#s" x="279.2" y="209.3"/><use href="#s" x="279.2" y="231.4"/><use href="#s" x="279.2" y="231.0"/><use href="#s" x="279.2" y="226.0"/><use href="#s" x="279.7" y="229.2"/><use href="#s" x="279.7" y="207.3"/><use href="#s" x="279.7" y="212.5"/><use href="#s" x="279.7" y="224.3"/><use href="#s" x="279.7" y="228.0"/><use href="#s" x="279.7" y="219.4"/><use href="#s" x="279.8" y="209.7"/><use href="#s" x="279.8" y="221.3"/><use href="#s" x="279.8" y="223.8"/><use href="#s" x="279.9" y="232.6"/><use href="#s" x="279.9" y="233.3"/><use href="#s" x="279.9" y="235.5"/><use href="#s" x="279.9" y="219.5"/><use href="#s" x="280.4" y="217.2"/><use href="#s" x="280.5" y="219.7"/><use href="#s" x="280.5" y="211.2"/><use href="#s" x="280.5" y="208.6"/><use href="#s" x="280.5" y="219.5"/><use href="#s" x="280.5" y="227.3"/><use href="#s" x="280.5" y="220.3"/><use href="#s" x="280.6" y="220.1"/><use href="#s" x="280.6" y="226.0"/><use href="#s" x="280.6" y="235.4"/><use href="#s" x="280.6" y="232.7"/><use href="#s" x="280.6" y="237.5"/><use href="#s" x="280.6" y="220.8"/><use href="#s" x="281.2" y="211.4"/><use href="#s" x="281.2" y="208.9"/><use href="#s" x="281.2" y="227.1"/><use href="#s" x="281.2" y="224.7"/><use href="#s" x="281.2" y="228.1"/><use href="#s" x="281.2" y="236.1"/><use href="#s" x="281.2" y="220.3"/><use href="#s" x="281.2" y="216.8"/><use href="#s" x="281.3" y="219.0"/><use href="#s" x="281.3" y="228.0"/><use href="#s" x="281.3" y="210.5"/><use href="#s" x="281.3" y="218.2"/><use href="#s" x="281.8" y="224.9"/><use href="#s" x="281.8" y="225.5"/><use href="#s" x="281.9" y="225.0"/><use href="#s" x="281.9" y="232.7"/><use href="#s" x="281.9" y="213.2"/><use href="#s" x="281.9" y="213.0"/><use href="#s" x="281.9" y="217.5"/><use href="#s" x="281.9" y="213.5"/><use href="#s" x="281.9" y="232.7"/><use href="#s" x="282.0" y="224.0"/><use href="#s" x="282.0" y="229.0"/><use href="#s" x="282.1" y="214.0"/><use href="#s" x="282.5" y="230.2"/><use href="#s" x="282.5" y="230.2"/><use href="#s" x="282.5" y="222.3"/><use href="#s" x="282.6" y="218.7"/><use href="#s" x="282.6" y="219.1"/><use href="#s" x="282.6" y="228.8"/><use href="#s" x="282.6" y="232.1"/><use href="#s" x="282.6" y="233.9"/><use href="#s" x="282.6" y="214.6"/><use href="#s" x="282.7" y="232.5"/><use href="#s" x="282.7" y="216.4"/><use href="#s" x="282.7" y="233.1"/><use href="#s" x="117.2" y="345.2"/><use href="#s" x="119.8" y="334.8"/><use href="#s" x="124.5" y="346.7"/><use href="#s" x="132.4" y="337.3"/><use href="#s" x="132.4" y="345.0"/><use href="#s" x="138.2" y="345.2"/><use href="#s" x="144.0" y="353.2"/><use href="#s" x="146.8" y="338.7"/><use href="#s" x="146.8" y="343.1"/><use href="#s" x="156.7" y="355.8"/><use href="#s" x="157.7" y="343.8"/><use href="#s" x="157.7" y="358.2"/><use href="#s" x="158.9" y="341.9"/><use href="#s" x="160.6" y="341.5"/><use href="#s" x="163.7" y="361.0"/><use href="#s" x="164.9" y="358.2"/><use href="#s" x="165.0" y="358.9"/><use href="#s" x="165.1" y="351.6"/><use href="#s" x="165.1" y="355.9"/><use href="#s" x="165.1" y="349.6"/><use href="#s" x="166.3" y="361.9"/><use href="#s" x="168.3" y="351.2"/><use href="#s" x="168.3" y="360.7"/><use href="#s" x="168.3" y="354.9"/><use href="#s" x="168.3" y="352.8"/><use href="#s" x="168.4" y="350.7"/><use href="#s" x="168.9" y="349.7"/><use href="#s" x="171.3" y="361.5"/><use href="#s" x="171.4" y="360.9"/><use href="#s" x="171.5" y="357.2"/><use href="#s" x="171.5" y="353.0"/><use href="#s" x="174.3" y="359.0"/><use href="#s" x="174.5" y="359.8"/><use href="#s" x="174.5" y="358.4"/><use href="#s" x="174.5" y="358.4"/><use href="#s" x="174.5" y="362.8"/><use href="#s" x="177.2" y="355.5"/><use href="#s" x="177.2" y="361.1"/><use href="#s" x="177.3" y="357.5"/><use href="#s" x="177.3" y="360.1"/><use href="#s" x="177.4" y="358.2"/><use href="#s" x="178.4" y="355.0"/><use href="#s" x="180.0" y="361.7"/><use href="#s" x="180.0" y="358.7"/><use href="#s" x="180.1" y="358.3"/><use href="#s" x="180.2" y="362.6"/><use href="#s" x="181.0" y="355.8"/><use href="#s" x="182.7" y="365.3"/><use href="#s" x="182.8" y="365.7"/><use href="#s" x="182.9" y="366.6"/><use href="#s" x="182.9" y="358.3"/><use href="#s" x="185.2" y="360.5"/><use href="#s" x="185.3" y="361.1"/><use href="#s" x="185.4" y="368.0"/><use href="#s" x="185.4" y="363.1"/><use href="#s" x="185.5" y="366.3"/><use href="#s" x="187.7" y="364.0"/><use href="#s" x="187.8" y="363.8"/><use href="#s" x="187.8" y="364.9"/><use href="#s" x="187.8" y="363.7"/><use href="#s" x="187.9" y="366.0"/><use href="#s" x="190.2" y="368.6"/><use href="#s" x="190.2" y="365.6"/><use href="#s" x="190.4" y="368.8"/><use href="#s" x="190.4" y="368.3"/><use href="#s" x="192.5" y="367.1"/><use href="#s" x="192.6" y="375.4"/><use href="#s" x="192.6" y="369.2"/><use href="#s" x="192.6" y="366.4"/><use href="#s" x="194.7" y="373.1"/><use href="#s" x="194.8" y="374.2"/><use href="#s" x="194.9" y="371.0"/><use href="#s" x="194.9" y="375.8"/><use href="#s" x="195.0" y="369.0"/><use href="#s" x="197.0" y="378.4"/><use href="#s" x="197.0" y="373.2"/><use href="#s" x="197.1" y="372.2"/><use href="#s" x="197.1" y="375.6"/><use href="#s" x="199.1" y="372.8"/><use href="#s" x="199.2" y="376.3"/><use href="#s" x="199.2" y="376.7"/><use href="#s" x="199.3" y="379.1"/><use href="#s" x="199.3" y="374.3"/><use href="#s" x="201.2" y="380.4"/><use href="#s" x="201.2" y="381.3"/><use href="#s" x="201.2" y="377.5"/><use href="#s" x="201.3" y="375.9"/><use href="#s" x="203.2" y="382.7"/><use href="#s" x="203.3" y="379.6"/><use href="#s" x="203.3" y="378.7"/><use href="#s" x="203.3" y="384.2"/><use href="#s" x="205.1" y="384.1"/><use href="#s" x="205.2" y="385.4"/><use href="#s" x="205.2" y="379.7"/><use href="#s" x="205.2" y="380.9"/><use href="#s" x="205.3" y="386.4"/><use href="#s" x="207.1" y="380.3"/><use href="#s" x="207.1" y="379.3"/><use href="#s" x="207.2" y="386.8"/><use href="#s" x="207.3" y="379.3"/><use href="#s" x="207.3" y="388.7"/><use href="#s" x="208.9" y="391.0"/><use href="#s" x="209.0" y="390.2"/><use href="#s" x="209.0" y="391.0"/><use href="#s" x="209.1" y="382.7"/><use href="#s" x="210.8" y="383.8"/><use href="#s" x="210.8" y="382.8"/><use href="#s" x="210.9" y="390.6"/><use href="#s" x="210.9" y="392.5"/><use href="#s" x="211.0" y="389.3"/><use href="#s" x="212.6" y="386.1"/><use href="#s" x="212.6" y="388.8"/><use href="#s" x="212.6" y="395.6"/><use href="#s" x="212.6" y="395.7"/><use href="#s" x="212.7" y="391.3"/><use href="#s" x="214.3" y="388.1"/><use href="#s" x="214.3" y="394.3"/><use href="#s" x="214.4" y="386.6"/><use href="#s" x="214.4" y="390.1"/><use href="#s" x="214.5" y="397.5"/><use href="#s" x="216.0" y="394.7"/><use href="#s" x="216.1" y="388.2"/><use href="#s" x="216.1" y="396.9"/><use href="#s" x="216.2" y="393.0"/><use href="#s" x="217.7" y="391.3"/><use href="#s" x="217.8" y="399.8"/><use href="#s" x="217.8" y="394.0"/><use href="#s" x="217.8" y="389.8"/><use href="#s" x="217.8" y="400.2"/><use href="#s" x="219.2" y="397.0"/><use href="#s" x="219.3" y="399.3"/><use href="#s" x="219.3" y="400.0"/><use href="#s" x="219.4" y="398.7"/><use href="#s" x="220.9" y="397.2"/><use href="#s" x="220.9" y="399.6"/><use href="#s" x="221.0" y="402.6"/><use href="#s" x="221.1" y="403.1"/><use href="#s" x="222.4" y="401.1"/><use href="#s" x="222.5" y="402.6"/><use href="#s" x="222.5" y="401.8"/><use href="#s" x="222.6" y="403.2"/><use href="#s" x="223.9" y="405.7"/><use href="#s" x="224.0" y="401.1"/><use href="#s" x="224.1" y="405.8"/><use href="#s" x="224.1" y="397.5"/><use href="#s" x="225.5" y="398.2"/><use href="#s" x="225.6" y="407.0"/><use href="#s" x="225.6" y="398.0"/><use href="#s" x="225.6" y="401.7"/><use href="#s" x="226.9" y="406.3"/><use href="#s" x="226.9" y="406.4"/><use href="#s" x="227.0" y="408.0"/><use href="#s" x="227.0" y="399.2"/><use href="#s" x="227.0" y="406.4"/><use href="#s" x="228.4" y="402.4"/><use href="#s" x="228.4" y="410.9"/><use href="#s" x="228.5" y="405.9"/><use href="#s" x="228.5" y="410.0"/><use href="#s" x="229.7" y="408.6"/><use href="#s" x="229.7" y="406.1"/><use href="#s" x="229.8" y="409.4"/><use href="#s" x="229.8" y="412.3"/><use href="#s" x="229.9" y="405.9"/><use href="#s" x="230.0" y="405.2"/><use href="#s" x="231.1" y="411.8"/><use href="#s" x="231.1" y="407.6"/><use href="#s" x="231.2" y="406.4"/><use href="#s" x="231.2" y="402.1"/><use href="#s" x="231.3" y="403.3"/><use href="#s" x="231.3" y="412.3"/><use href="#s" x="232.5" y="413.3"/><use href="#s" x="232.5" y="405.4"/><use href="#s" x="232.5" y="407.3"/><use href="#s" x="232.6" y="405.4"/><use href="#s" x="232.6" y="412.1"/><use href="#s" x="232.7" y="407.4"/><use href="#s" x="233.9" y="414.3"/><use href="#s" x="234.0" y="410.5"/><use href="#s" x="234.0" y="411.2"/><use href="#s" x="234.0" y="407.2"/><use href="#s" x="234.0" y="407.6"/><use href="#s" x="234.0" y="412.3"/><use href="#s" x="235.2" y="415.5"/><use href="#s" x="235.3" y="416.3"/><use href="#s" x="235.3" y="407.9"/><use href="#s" x="235.3" y="411.8"/><use href="#s" x="235.3" y="407.1"/><use href="#s" x="235.3" y="418.4"/><use href="#s" x="236.4" y="412.8"/><use href="#s" x="236.5" y="414.0"/><use href="#s" x="236.5" y="409.2"/><use href="#s" x="236.5" y="412.3"/><use href="#s" x="236.5" y="417.7"/><use href="#s" x="236.6" y="409.5"/><use href="#s" x="237.7" y="409.2"/><use href="#s" x="237.7" y="410.6"/><use href="#s" x="237.7" y="416.6"/><use href="#s" x="237.7" y="422.5"/><use href="#s" x="237.8" y="410.8"/><use href="#s" x="237.9" y="422.4"/><use href="#s" x="239.0" y="419.2"/><use href="#s" x="239.0" y="420.1"/><use href="#s" x="239.0" y="420.3"/><use href="#s" x="239.1" y="424.2"/><use href="#s" x="239.1" y="418.3"/><use href="#s" x="239.1" y="418.5"/><use href="#s" x="240.1" y="412.8"/><use href="#s" x="240.1" y="419.5"/><use href="#s" x="240.2" y="420.1"/><use href="#s" x="240.3" y="424.4"/><use href="#s" x="240.3" y="422.1"/><use href="#s" x="240.4" y="415.5"/><use href="#s" x="241.3" y="413.6"/><use href="#s" x="241.4" y="413.7"/><use href="#s" x="241.5" y="418.2"/><use href="#s" x="241.5" y="427.1"/><use href="#s" x="241.5" y="423.7"/><use href="#s" x="241.6" y="419.9"/><use href="#s" x="242.3" y="413.5"/><use href="#s" x="242.6" y="415.4"/><use href="#s" x="242.6" y="422.9"/><use href="#s" x="242.6" y="429.7"/><use href="#s" x="242.7" y="417.9"/><use href="#s" x="242.7" y="419.2"/><use href="#s" x="242.7" y="416.7"/><use href="#s" x="243.7" y="431.5"/><use href="#s" x="243.7" y="428.0"/><use href="#s" x="243.8" y="419.0"/><use href="#s" x="243.9" y="417.8"/><use href="#s" x="243.9" y="426.7"/><use href="#s" x="243.9" y="431.7"/><use href="#s" x="244.9" y="422.3"/><use href="#s" x="244.9" y="420.8"/><use href="#s" x="244.9" y="428.2"/><use href="#s" x="245.0" y="429.3"/><use href="#s" x="245.0" y="427.3"/><use href="#s" x="245.0" y="423.8"/><use href="#s" x="246.0" y="428.0"/><use href="#s" x="246.0" y="423.6"/><use href="#s" x="246.1" y="428.3"/><use href="#s" x="246.1" y="420.9"/><use href="#s" x="246.1" y="427.4"/><use href="#s" x="246.1" y="423.5"/><use href="#s" x="246.2" y="423.6"/><use href="#s" x="247.1" y="424.2"/><use href="#s" x="247.1" y="432.7"/><use href="#s" x="247.2" y="427.2"/><use href="#s" x="247.2" y="428.2"/><use href="#s" x="247.2" y="435.0"/><use href="#s" x="247.3" y="431.3"/><use href="#s" x="248.2" y="427.9"/><use href="#s" x="248.2" y="436.5"/><use href="#s" x="248.2" y="425.3"/><use href="#s" x="248.3" y="432.4"/><use href="#s" x="248.3" y="433.2"/><use href="#s" x="248.3" y="427.5"/><use href="#s" x="248.4" y="427.8"/><use href="#s" x="249.3" y="429.4"/><use href="#s" x="249.3" y="425.3"/><use href="#s" x="249.3" y="431.8"/><use href="#s" x="249.4" y="425.4"/><use href="#s" x="249.4" y="426.8"/><use href="#s" x="249.4" y="436.6"/><use href="#s" x="249.4" y="435.1"/><use href="#s" x="250.4" y="431.6"/><use href="#s" x="250.4" y="426.1"/><use href="#s" x="250.4" y="439.9"/><use href="#s" x="250.5" y="432.1"/><use href="#s" x="250.5" y="427.3"/><use href="#s" x="250.5" y="427.3"/><use href="#s" x="251.4" y="433.3"/><use href="#s" x="251.4" y="434.1"/><use href="#s" x="251.4" y="436.7"/><use href="#s" x="251.5" y="428.7"/><use href="#s" x="251.5" y="428.3"/><use href="#s" x="251.5" y="432.9"/><use href="#s" x="251.6" y="441.2"/><use href="#s" x="252.5" y="439.9"/><use href="#s" x="252.5" y="430.5"/><use href="#s" x="252.5" y="438.3"/><use href="#s" x="252.6" y="430.3"/><use href="#s" x="252.6" y="435.5"/><use href="#s" x="252.6" y="432.6"/><use href="#s" x="253.4" y="434.3"/><use href="#s" x="253.5" y="441.0"/><use href="#s" x="253.6" y="434.6"/><use href="#s" x="253.6" y="434.9"/><use href="#s" x="253.6" y="430.4"/><use href="#s" x="253.6" y="437.9"/><use href="#s" x="254.4" y="440.4"/><use href="#s" x="254.5" y="431.0"/><use href="#s" x="254.5" y="439.9"/><use href="#s" x="254.5" y="432.6"/><use href="#s" x="254.5" y="444.7"/><use href="#s" x="254.6" y="443.2"/><use href="#s" x="254.7" y="441.1"/><use href="#s" x="255.5" y="446.2"/><use href="#s" x="255.6" y="434.9"/><use href="#s" x="255.6" y="445.5"/><use href="#s" x="255.6" y="444.4"/><use href="#s" x="255.6" y="445.8"/><use href="#s" x="255.6" y="445.0"/><use href="#s" x="255.6" y="437.2"/><use href="#s" x="256.5" y="436.5"/><use href="#s" x="256.5" y="438.2"/><use href="#s" x="256.5" y="440.5"/><use href="#s" x="256.5" y="436.0"/><use href="#s" x="256.6" y="440.6"/><use href="#s" x="256.6" y="439.3"/><use href="#s" x="257.5" y="441.9"/><use href="#s" x="257.5" y="438.7"/><use href="#s" x="257.5" y="445.8"/><use href="#s" x="257.6" y="445.7"/><use href="#s" x="257.6" y="441.5"/><use href="#s" x="257.6" y="444.8"/><use href="#s" x="257.6" y="438.1"/><use href="#s" x="257.8" y="459.1"/><use href="#s" x="258.4" y="438.7"/><use href="#s" x="258.4" y="445.8"/><use href="#s" x="258.4" y="442.3"/><use href="#s" x="258.4" y="440.2"/><use href="#s" x="258.5" y="445.6"/><use href="#s" x="258.5" y="447.2"/><use href="#s" x="258.5" y="446.7"/><use href="#s" x="259.3" y="442.2"/><use href="#s" x="259.3" y="441.8"/><use href="#s" x="259.3" y="448.8"/><use href="#s" x="259.4" y="444.0"/><use href="#s" x="259.4" y="451.1"/><use href="#s" x="259.5" y="448.6"/><use href="#s" x="259.5" y="446.8"/><use href="#s" x="260.3" y="452.7"/><use href="#s" x="260.3" y="440.2"/><use href="#s" x="260.3" y="444.2"/><use href="#s" x="260.3" y="451.0"/><use href="#s" x="260.4" y="445.3"/><use href="#s" x="260.4" y="451.5"/><use href="#s" x="260.4" y="451.9"/><use href="#s" x="261.2" y="445.5"/><use href="#s" x="261.2" y="448.1"/><use href="#s" x="261.2" y="450.9"/><use href="#s" x="261.2" y="445.7"/><use href="#s" x="261.4" y="452.2"/><use href="#s" x="261.4" y="440.6"/><use href="#s" x="262.1" y="442.7"/><use href="#s" x="262.1" y="444.5"/><use href="#s" x="262.1" y="452.1"/><use href="#s" x="262.1" y="439.9"/><use href="#s" x="262.1" y="446.0"/><use href="#s" x="262.2" y="450.7"/><use href="#s" x="262.2" y="450.8"/><use href="#s" x="263.0" y="446.0"/><use href="#s" x="263.0" y="442.6"/><use href="#s" x="263.0" y="455.9"/><use href="#s" x="263.1" y="450.7"/><use href="#s" x="263.1" y="450.4"/><use href="#s" x="263.1" y="446.1"/><use href="#s" x="263.9" y="457.1"/><use href="#s" x="263.9" y="458.6"/><use href="#s" x="263.9" y="456.4"/><use href="#s" x="263.9" y="448.7"/><use href="#s" x="263.9" y="451.7"/><use href="#s" x="264.0" y="442.1"/><use href="#s" x="264.8" y="443.3"/><use href="#s" x="264.8" y="452.2"/><use href="#s" x="264.9" y="446.4"/><use href="#s" x="264.9" y="447.2"/><use href="#s" x="264.9" y="456.3"/><use href="#s" x="265.0" y="450.9"/><use href="#s" x="265.6" y="461.7"/><use href="#s" x="265.6" y="443.5"/><use href="#s" x="265.6" y="451.9"/><use href="#s" x="265.7" y="445.4"/><use href="#s" x="265.7" y="445.1"/><use href="#s" x="265.7" y="457.3"/><use href="#s" x="266.5" y="463.0"/><use href="#s" x="266.5" y="454.1"/><use href="#s" x="266.6" y="454.2"/><use href="#s" x="266.6" y="457.8"/><use href="#s" x="266.7" y="451.6"/><use href="#s" x="266.7" y="448.5"/><use href="#s" x="267.3" y="452.8"/><use href="#s" x="267.4" y="456.5"/><use href="#s" x="267.4" y="452.0"/><use href="#s" x="267.4" y="458.3"/><use href="#s" x="267.4" y="452.2"/><use href="#s" x="267.5" y="447.3"/><use href="#s" x="267.6" y="475.7"/><use href="#s" x="268.2" y="454.7"/><use href="#s" x="268.2" y="465.6"/><use href="#s" x="268.2" y="455.6"/><use href="#s" x="268.2" y="453.5"/><use href="#s" x="268.3" y="459.8"/><use href="#s" x="268.3" y="451.4"/><use href="#s" x="268.9" y="470.6"/><use href="#s" x="269.0" y="462.7"/><use href="#s" x="269.0" y="451.9"/><use href="#s" x="269.1" y="464.6"/><use href="#s" x="269.1" y="457.9"/><use href="#s" x="269.1" y="470.3"/><use href="#s" x="269.1" y="476.4"/><use href="#s" x="269.1" y="461.6"/><use href="#s" x="269.2" y="452.4"/><use href="#s" x="269.8" y="460.3"/><use href="#s" x="269.8" y="462.2"/><use href="#s" x="269.8" y="461.6"/><use href="#s" x="269.8" y="463.2"/><use href="#s" x="269.9" y="459.5"/><use href="#s" x="269.9" y="441.7"/><use href="#s" x="269.9" y="481.6"/><use href="#s" x="269.9" y="458.9"/><use href="#s" x="270.1" y="480.8"/><use href="#s" x="270.6" y="440.7"/><use href="#s" x="270.7" y="465.8"/><use href="#s" x="270.7" y="454.8"/><use href="#s" x="270.7" y="467.4"/><use href="#s" x="270.7" y="466.4"/><use href="#s" x="270.7" y="461.5"/><use href="#s" x="270.8" y="456.6"/><use href="#s" x="270.8" y="459.5"/><use href="#s" x="271.4" y="464.1"/><use href="#s" x="271.4" y="465.0"/><use href="#s" x="271.5" y="466.6"/><use href="#s" x="271.6" y="471.0"/><use href="#s" x="272.2" y="463.3"/><use href="#s" x="272.3" y="471.3"/><use href="#s" x="272.4" y="470.0"/><use href="#s" x="272.4" y="455.9"/><use href="#s" x="273.0" y="454.4"/><use href="#s" x="273.0" y="472.0"/><use href="#s" x="273.1" y="453.5"/><use href="#s" x="273.1" y="472.8"/><use href="#s" x="273.8" y="456.6"/><use href="#s" x="273.8" y="460.4"/><use href="#s" x="274.0" y="474.5"/><use href="#s" x="274.0" y="473.4"/><use href="#s" x="274.6" y="471.5"/><use href="#s" x="274.6" y="472.9"/><use href="#s" x="274.7" y="467.4"/><use href="#s" x="274.7" y="475.9"/><use href="#s" x="274.8" y="456.8"/><use href="#s" x="275.3" y="466.2"/><use href="#s" x="275.4" y="477.8"/><use href="#s" x="275.5" y="459.0"/><use href="#s" x="275.5" y="466.4"/><use href="#s" x="276.1" y="461.8"/><use href="#s" x="276.1" y="476.1"/><use href="#s" x="276.1" y="479.0"/><use href="#s" x="276.1" y="472.9"/><use href="#s" x="276.8" y="469.4"/><use href="#s" x="276.9" y="462.4"/><use href="#s" x="276.9" y="478.4"/><use href="#s" x="277.0" y="475.5"/><use href="#s" x="277.0" y="419.3"/><use href="#s" x="277.0" y="429.1"/><use href="#s" x="277.0" y="432.6"/><use href="#s" x="277.0" y="443.6"/><use href="#s" x="277.2" y="452.6"/><use href="#s" x="277.6" y="471.1"/><use href="#s" x="277.6" y="474.3"/><use href="#s" x="277.6" y="480.7"/><use href="#s" x="277.7" y="449.5"/><use href="#s" x="277.7" y="453.9"/><use href="#s" x="277.7" y="485.1"/><use href="#s" x="277.7" y="526.1"/><use href="#s" x="277.7" y="470.7"/><use href="#s" x="277.9" y="356.7"/><use href="#s" x="277.9" y="492.4"/><use href="#s" x="277.9" y="524.6"/><use href="#s" x="277.9" y="487.3"/><use href="#s" x="278.1" y="444.7"/><use href="#s" x="278.3" y="479.3"/><use href="#s" x="278.3" y="473.5"/><use href="#s" x="278.4" y="477.1"/><use href="#s" x="278.4" y="471.1"/><use href="#s" x="278.4" y="466.0"/><use href="#s" x="278.5" y="494.3"/><use href="#s" x="278.6" y="490.3"/><use href="#s" x="278.6" y="493.7"/><use href="#s" x="278.6" y="505.9"/><use href="#s" x="279.0" y="475.9"/><use href="#s" x="279.1" y="479.7"/><use href="#s" x="279.1" y="506.6"/><use href="#s" x="279.1" y="474.0"/><use href="#s" x="279.2" y="460.1"/><use href="#s" x="279.2" y="466.5"/><use href="#s" x="279.7" y="465.8"/><use href="#s" x="279.8" y="481.8"/><use href="#s" x="279.9" y="481.1"/><use href="#s" x="279.9" y="478.2"/><use href="#s" x="280.5" y="471.9"/><use href="#s" x="280.5" y="475.1"/><use href="#s" x="280.5" y="466.7"/><use href="#s" x="280.6" y="466.5"/><use href="#s" x="280.6" y="467.5"/><use href="#s" x="281.1" y="484.8"/><use href="#s" x="281.2" y="487.3"/><use href="#s" x="281.2" y="474.3"/><use href="#s" x="281.3" y="463.6"/><use href="#s" x="281.7" y="462.9"/><use href="#s" x="281.9" y="477.9"/><use href="#s" x="281.9" y="483.0"/><use href="#s" x="281.9" y="484.5"/><use href="#s" x="282.0" y="478.9"/>
<use href="#c" x="118.0" y="53.4"/><use href="#c" x="118.0" y="59.1"/><use href="#c" x="120.6" y="56.9"/><use href="#c" x="123.7" y="53.9"/><use href="#c" x="124.1" y="61.2"/><use href="#c" x="132.4" y="49.4"/><use href="#c" x="132.4" y="54.3"/><use href="#c" x="134.1" y="58.6"/><use href="#c" x="134.1" y="62.1"/><use href="#c" x="138.5" y="44.8"/><use href="#c" x="138.5" y="52.1"/><use href="#c" x="141.7" y="59.9"/><use href="#c" x="144.1" y="59.2"/><use href="#c" x="146.8" y="56.7"/><use href="#c" x="146.8" y="61.6"/><use href="#c" x="149.8" y="57.7"/><use href="#c" x="150.2" y="54.8"/><use href="#c" x="150.7" y="60.2"/><use href="#c" x="150.7" y="65.1"/><use href="#c" x="154.2" y="62.6"/><use href="#c" x="154.7" y="59.2"/><use href="#c" x="158.1" y="62.1"/><use href="#c" x="158.6" y="54.8"/><use href="#c" x="160.1" y="68.5"/><use href="#c" x="160.8" y="63.5"/><use href="#c" x="161.0" y="57.2"/><use href="#c" x="161.0" y="63.1"/><use href="#c" x="161.1" y="60.0"/><use href="#c" x="161.9" y="65.9"/><use href="#c" x="164.0" y="66.6"/><use href="#c" x="164.5" y="63.6"/><use href="#c" x="165.5" y="63.3"/><use href="#c" x="165.6" y="67.2"/><use href="#c" x="166.0" y="60.7"/><use href="#c" x="166.0" y="66.1"/><use href="#c" x="167.4" y="68.5"/><use href="#c" x="168.4" y="63.6"/><use href="#c" x="169.4" y="71.5"/><use href="#c" x="170.1" y="71.7"/><use href="#c" x="171.0" y="71.9"/><use href="#c" x="172.3" y="70.2"/><use href="#c" x="173.0" y="65.2"/><use href="#c" x="173.0" y="75.3"/><use href="#c" x="173.3" y="65.3"/><use href="#c" x="173.7" y="68.8"/><use href="#c" x="174.5" y="73.1"/><use href="#c" x="176.6" y="75.3"/><use href="#c" x="177.2" y="69.4"/><use href="#c" x="177.3" y="67.3"/><use href="#c" x="178.1" y="71.7"/><use href="#c" x="178.8" y="72.6"/><use href="#c" x="179.5" y="76.7"/><use href="#c" x="180.2" y="71.0"/><use href="#c" x="180.3" y="76.6"/><use href="#c" x="180.9" y="71.5"/><use href="#c" x="181.7" y="74.6"/><use href="#c" x="183.1" y="77.5"/><use href="#c" x="184.6" y="73.8"/><use href="#c" x="185.3" y="78.9"/><use href="#c" x="185.3" y="76.0"/><use href="#c" x="187.1" y="79.8"/><use href="#c" x="188.2" y="75.3"/><use href="#c" x="188.2" y="80.3"/><use href="#c" x="189.6" y="78.2"/><use href="#c" x="189.7" y="77.6"/><use href="#c" x="190.3" y="84.0"/><use href="#c" x="191.1" y="83.2"/><use href="#c" x="192.5" y="80.3"/><use href="#c" x="194.0" y="85.4"/><use href="#c" x="194.7" y="80.3"/><use href="#c" x="195.5" y="83.1"/><use href="#c" x="196.0" y="86.0"/><use href="#c" x="196.1" y="82.5"/><use href="#c" x="196.8" y="86.1"/><use href="#c" x="199.0" y="84.7"/><use href="#c" x="200.5" y="88.3"/><use href="#c" x="201.8" y="86.9"/><use href="#c" x="201.9" y="91.9"/><use href="#c" x="203.4" y="86.8"/><use href="#c" x="204.1" y="94.1"/><use href="#c" x="204.8" y="89.7"/><use href="#c" x="205.1" y="93.2"/><use href="#c" x="206.2" y="96.2"/><use href="#c" x="207.0" y="93.4"/><use href="#c" x="207.8" y="96.2"/><use href="#c" x="208.0" y="97.0"/><use href="#c" x="208.0" y="91.2"/><use href="#c" x="208.0" y="96.1"/><use href="#c" x="208.0" y="95.6"/><use href="#c" x="208.0" y="90.3"/><use href="#c" x="208.1" y="93.3"/><use href="#c" x="208.4" y="97.0"/><use href="#c" x="209.7" y="98.4"/><use href="#c" x="209.8" y="94.7"/><use href="#c" x="209.8" y="101.2"/><use href="#c" x="209.9" y="98.8"/><use href="#c" x="209.9" y="101.6"/><use href="#c" x="209.9" y="96.3"/><use href="#c" x="210.0" y="105.2"/><use href="#c" x="211.6" y="95.6"/><use href="#c" x="211.6" y="95.2"/><use href="#c" x="211.6" y="94.6"/><use href="#c" x="211.6" y="93.9"/><use href="#c" x="211.7" y="94.3"/><use href="#c" x="211.7" y="98.2"/><use href="#c" x="213.3" y="97.4"/><use href="#c" x="213.3" y="98.5"/><use href="#c" x="213.4" y="107.0"/><use href="#c" x="213.4" y="101.0"/><use href="#c" x="213.5" y="107.3"/><use href="#c" x="213.5" y="107.3"/><use href="#c" x="215.0" y="107.3"/><use href="#c" x="215.1" y="106.0"/><use href="#c" x="215.1" y="97.3"/><use href="#c" x="215.1" y="102.7"/><use href="#c" x="215.2" y="104.9"/><use href="#c" x="215.2" y="111.4"/><use href="#c" x="216.7" y="108.3"/><use href="#c" x="216.7" y="105.2"/><use href="#c" x="216.7" y="100.8"/><use href="#c" x="216.8" y="102.0"/><use href="#c" x="216.8" y="110.4"/><use href="#c" x="216.9" y="110.2"/><use href="#c" x="218.4" y="106.7"/><use href="#c" x="218.4" y="109.6"/><use href="#c" x="218.4" y="102.5"/><use href="#c" x="218.4" y="105.4"/><use href="#c" x="218.4" y="103.7"/><use href="#c" x="218.6" y="102.8"/><use href="#c" x="219.9" y="106.7"/><use href="#c" x="220.0" y="109.9"/><use href="#c" x="220.0" y="106.1"/><use href="#c" x="220.1" y="115.0"/><use href="#c" x="220.1" y="114.6"/><use href="#c" x="220.1" y="107.7"/><use href="#c" x="221.5" y="112.0"/><use href="#c" x="221.6" y="109.4"/><use href="#c" x="221.7" y="115.0"/><use href="#c" x="221.7" y="108.5"/><use href="#c" x="221.7" y="111.9"/><use href="#c" x="221.8" y="111.9"/><use href="#c" x="223.1" y="109.1"/><use href="#c" x="223.1" y="115.3"/><use href="#c" x="223.1" y="113.3"/><use href="#c" x="223.3" y="110.8"/><use href="#c" x="223.3" y="115.9"/><use href="#c" x="223.3" y="117.4"/><use href="#c" x="224.6" y="112.2"/><use href="#c" x="224.6" y="112.4"/><use href="#c" x="224.7" y="118.4"/><use href="#c" x="224.7" y="118.4"/><use href="#c" x="224.7" y="112.7"/><use href="#c" x="224.8" y="118.2"/><use href="#c" x="226.1" y="118.3"/><use href="#c" x="226.1" y="115.8"/><use href="#c" x="226.2" y="115.8"/><use href="#c" x="226.2" y="118.2"/><use href="#c" x="226.3" y="119.1"/><use href="#c" x="226.3" y="117.2"/><use href="#c" x="227.5" y="114.1"/><use href="#c" x="227.5" y="118.9"/><use href="#c" x="227.6" y="120.9"/><use href="#c" x="227.7" y="115.8"/><use href="#c" x="227.7" y="120.3"/><use href="#c" x="227.7" y="116.3"/><use href="#c" x="229.0" y="118.6"/><use href="#c" x="229.0" y="119.5"/><use href="#c" x="229.0" y="121.7"/><use href="#c" x="229.1" y="119.4"/><use href="#c" x="229.2" y="114.4"/><use href="#c" x="229.2" y="120.9"/><use href="#c" x="230.4" y="121.9"/><use href="#c" x="230.4" y="117.3"/><use href="#c" x="230.4" y="117.4"/><use href="#c" x="230.4" y="118.2"/><use href="#c" x="230.5" y="117.3"/><use href="#c" x="230.5" y="116.4"/><use href="#c" x="231.7" y="117.9"/><use href="#c" x="231.7" y="122.6"/><use href="#c" x="231.8" y="123.4"/><use href="#c" x="231.8" y="116.6"/><use href="#c" x="231.8" y="123.5"/><use href="#c" x="231.8" y="120.5"/><use href="#c" x="233.1" y="119.4"/><use href="#c" x="233.2" y="123.2"/><use href="#c" x="233.2" y="119.9"/><use href="#c" x="233.2" y="122.9"/><use href="#c" x="233.2" y="118.3"/><use href="#c" x="233.2" y="121.6"/><use href="#c" x="234.5" y="123.5"/><use href="#c" x="234.5" y="122.4"/><use href="#c" x="234.5" y="122.2"/><use href="#c" x="234.5" y="121.7"/><use href="#c" x="234.5" y="125.3"/><use href="#c" x="234.6" y="124.0"/><use href="#c" x="235.7" y="125.5"/><use href="#c" x="235.7" y="120.3"/><use href="#c" x="235.7" y="126.2"/><use href="#c" x="235.8" y="120.6"/><use href="#c" x="235.8" y="120.3"/><use href="#c" x="235.9" y="123.6"/><use href="#c" x="237.0" y="127.0"/><use href="#c" x="237.0" y="127.4"/><use href="#c" x="237.0" y="127.3"/><use href="#c" x="237.1" y="125.8"/><use href="#c" x="237.2" y="122.0"/><use href="#c" x="237.2" y="124.3"/><use href="#c" x="238.2" y="126.9"/><use href="#c" x="238.3" y="123.6"/><use href="#c" x="238.3" y="122.4"/><use href="#c" x="238.3" y="125.6"/><use href="#c" x="238.3" y="123.3"/><use href="#c" x="238.3" y="125.8"/><use href="#c" x="239.4" y="125.2"/><use href="#c" x="239.4" y="126.7"/><use href="#c" x="239.5" y="129.5"/><use href="#c" x="239.5" y="128.3"/><use href="#c" x="239.5" y="124.3"/><use href="#c" x="239.6" y="129.6"/><use href="#c" x="240.7" y="125.3"/><use href="#c" x="240.7" y="130.1"/><use href="#c" x="240.8" y="129.2"/><use href="#c" x="240.8" y="128.5"/><use href="#c" x="240.9" y="125.7"/><use href="#c" x="240.9" y="125.2"/><use href="#c" x="241.9" y="132.1"/><use href="#c" x="241.9" y="131.7"/><use href="#c" x="241.9" y="132.6"/><use href="#c" x="242.0" y="132.2"/><use href="#c" x="242.0" y="126.9"/><use href="#c" x="242.0" y="128.4"/><use href="#c" x="243.0" y="129.9"/><use href="#c" x="243.1" y="128.0"/><use href="#c" x="243.1" y="131.1"/><use href="#c" x="243.1" y="127.5"/><use href="#c" x="243.1" y="133.1"/><use href="#c" x="243.1" y="129.6"/><use href="#c" x="244.2" y="133.0"/><use href="#c" x="244.3" y="135.5"/><use href="#c" x="244.3" y="132.0"/><use href="#c" x="244.4" y="128.4"/><use href="#c" x="244.4" y="129.2"/><use href="#c" x="244.4" y="132.4"/><use href="#c" x="245.3" y="130.3"/><use href="#c" x="245.4" y="133.5"/><use href="#c" x="245.5" y="136.2"/><use href="#c" x="245.5" y="130.4"/><use href="#c" x="245.5" y="132.9"/><use href="#c" x="245.6" y="136.0"/><use href="#c" x="246.5" y="133.3"/><use href="#c" x="246.5" y="136.1"/><use href="#c" x="246.5" y="136.0"/><use href="#c" x="246.5" y="138.1"/><use href="#c" x="246.5" y="134.1"/><use href="#c" x="246.7" y="139.7"/><use href="#c" x="247.6" y="136.8"/><use href="#c" x="247.6" y="133.8"/><use href="#c" x="247.7" y="138.3"/><use href="#c" x="247.7" y="135.7"/><use href="#c" x="247.7" y="143.1"/><use href="#c" x="247.8" y="136.1"/><use href="#c" x="248.6" y="139.7"/><use href="#c" x="248.7" y="138.4"/><use href="#c" x="248.7" y="136.0"/><use href="#c" x="248.8" y="138.0"/><use href="#c" x="248.8" y="142.2"/><use href="#c" x="248.8" y="140.9"/><use href="#c" x="249.8" y="147.5"/><use href="#c" x="249.8" y="141.6"/><use href="#c" x="249.9" y="146.6"/><use href="#c" x="249.9" y="144.9"/><use href="#c" x="249.9" y="145.0"/><use href="#c" x="249.9" y="138.1"/><use href="#c" x="250.8" y="139.6"/><use href="#c" x="250.8" y="146.3"/><use href="#c" x="250.9" y="144.6"/><use href="#c" x="250.9" y="147.7"/><use href="#c" x="250.9" y="148.3"/><use href="#c" x="251.0" y="147.8"/><use href="#c" x="251.8" y="145.8"/><use href="#c" x="252.0" y="145.9"/><use href="#c" x="252.0" y="146.5"/><use href="#c" x="252.0" y="147.2"/><use href="#c" x="252.0" y="149.0"/><use href="#c" x="252.0" y="141.8"/><use href="#c" x="252.9" y="144.8"/><use href="#c" x="253.0" y="146.2"/><use href="#c" x="253.0" y="152.5"/><use href="#c" x="253.0" y="145.0"/><use href="#c" x="253.0" y="142.9"/><use href="#c" x="253.0" y="144.3"/><use href="#c" x="253.9" y="149.7"/><use href="#c" x="253.9" y="150.5"/><use href="#c" x="253.9" y="145.2"/><use href="#c" x="253.9" y="144.2"/><use href="#c" x="253.9" y="151.6"/><use href="#c" x="254.0" y="151.9"/><use href="#c" x="254.9" y="155.3"/><use href="#c" x="255.0" y="150.1"/><use href="#c" x="255.0" y="148.2"/><use href="#c" x="255.0" y="152.6"/><use href="#c" x="255.1" y="146.3"/><use href="#c" x="255.1" y="147.2"/><use href="#c" x="255.9" y="156.8"/><use href="#c" x="255.9" y="151.3"/><use href="#c" x="256.0" y="147.9"/><use href="#c" x="256.0" y="148.6"/><use href="#c" x="256.1" y="148.6"/><use href="#c" x="256.1" y="155.3"/><use href="#c" x="256.8" y="147.9"/><use href="#c" x="256.9" y="150.9"/><use href="#c" x="256.9" y="155.4"/><use href="#c" x="256.9" y="153.0"/><use href="#c" x="257.0" y="157.5"/><use href="#c" x="257.1" y="153.2"/><use href="#c" x="257.8" y="158.1"/><use href="#c" x="257.9" y="158.8"/><use href="#c" x="257.9" y="153.0"/><use href="#c" x="258.0" y="159.1"/><use href="#c" x="258.0" y="148.9"/><use href="#c" x="258.0" y="146.6"/><use href="#c" x="258.0" y="152.4"/><use href="#c" x="258.8" y="150.7"/><use href="#c" x="258.8" y="160.5"/><use href="#c" x="258.8" y="154.9"/><use href="#c" x="258.8" y="159.4"/><use href="#c" x="258.8" y="156.7"/><use href="#c" x="258.9" y="153.1"/><use href="#c" x="259.4" y="152.4"/><use href="#c" x="259.7" y="159.3"/><use href="#c" x="259.8" y="159.5"/><use href="#c" x="259.8" y="161.8"/><use href="#c" x="259.9" y="161.2"/><use href="#c" x="259.9" y="158.4"/><use href="#c" x="259.9" y="155.5"/><use href="#c" x="260.7" y="159.8"/><use href="#c" x="260.7" y="156.4"/><use href="#c" x="260.7" y="154.1"/><use href="#c" x="260.8" y="155.5"/><use href="#c" x="260.9" y="153.2"/><use href="#c" x="260.9" y="160.8"/><use href="#c" x="261.6" y="158.6"/><use href="#c" x="261.6" y="155.5"/><use href="#c" x="261.6" y="159.1"/><use href="#c" x="261.6" y="159.8"/><use href="#c" x="261.8" y="155.9"/><use href="#c" x="261.8" y="163.6"/><use href="#c" x="262.5" y="155.6"/><use href="#c" x="262.5" y="155.6"/><use href="#c" x="262.5" y="160.3"/><use href="#c" x="262.5" y="159.1"/><use href="#c" x="262.6" y="157.4"/><use href="#c" x="262.6" y="164.3"/><use href="#c" x="263.4" y="166.1"/><use href="#c" x="263.4" y="165.0"/><use href="#c" x="263.4" y="158.4"/><use href="#c" x="263.4" y="156.1"/><use href="#c" x="263.5" y="159.9"/><use href="#c" x="263.5" y="161.0"/><use href="#c" x="264.2" y="156.6"/><use href="#c" x="264.3" y="156.4"/><use href="#c" x="264.4" y="161.6"/><use href="#c" x="264.4" y="166.5"/><use href="#c" x="264.4" y="165.7"/><use href="#c" x="264.4" y="164.2"/><use href="#c" x="265.1" y="158.4"/><use href="#c" x="265.2" y="167.9"/><use href="#c" x="265.2" y="162.3"/><use href="#c" x="265.3" y="163.0"/><use href="#c" x="265.3" y="167.6"/><use href="#c" x="265.3" y="164.3"/><use href="#c" x="266.0" y="165.8"/><use href="#c" x="266.0" y="161.4"/><use href="#c" x="266.0" y="166.7"/><use href="#c" x="266.1" y="158.9"/><use href="#c" x="266.1" y="160.9"/><use href="#c" x="266.1" y="168.3"/><use href="#c" x="266.8" y="166.0"/><use href="#c" x="266.9" y="163.5"/><use href="#c" x="266.9" y="161.7"/><use href="#c" x="266.9" y="162.5"/><use href="#c" x="266.9" y="169.3"/><use href="#c" x="267.0" y="170.2"/><use href="#c" x="267.7" y="171.2"/><use href="#c" x="267.7" y="168.5"/><use href="#c" x="267.7" y="160.2"/><use href="#c" x="267.8" y="168.1"/><use href="#c" x="267.8" y="160.1"/><use href="#c" x="267.8" y="163.0"/><use href="#c" x="268.5" y="169.5"/><use href="#c" x="268.5" y="167.2"/><use href="#c" x="268.6" y="171.3"/><use href="#c" x="268.6" y="173.2"/><use href="#c" x="268.7" y="171.0"/><use href="#c" x="268.7" y="163.5"/><use href="#c" x="269.4" y="174.7"/><use href="#c" x="269.4" y="174.3"/><use href="#c" x="269.4" y="166.8"/><use href="#c" x="269.4" y="164.0"/><use href="#c" x="269.4" y="174.4"/><use href="#c" x="269.5" y="167.1"/><use href="#c" x="269.5" y="162.3"/><use href="#c" x="269.6" y="156.9"/><use href="#c" x="270.1" y="173.0"/><use href="#c" x="270.2" y="175.7"/><use href="#c" x="270.2" y="163.2"/><use href="#c" x="270.4" y="175.2"/><use href="#c" x="270.4" y="165.0"/><use href="#c" x="270.4" y="172.8"/><use href="#c" x="271.0" y="168.5"/><use href="#c" x="271.0" y="163.5"/><use href="#c" x="271.0" y="166.6"/><use href="#c" x="271.0" y="169.2"/><use href="#c" x="271.2" y="168.8"/><use href="#c" x="271.2" y="165.4"/><use href="#c" x="271.8" y="178.9"/><use href="#c" x="271.8" y="167.7"/><use href="#c" x="271.9" y="177.7"/><use href="#c" x="271.9" y="165.4"/><use href="#c" x="271.9" y="171.1"/><use href="#c" x="272.0" y="170.5"/><use href="#c" x="272.5" y="166.4"/><use href="#c" x="272.6" y="176.0"/><use href="#c" x="272.6" y="180.7"/><use href="#c" x="272.7" y="170.0"/><use href="#c" x="272.8" y="166.8"/><use href="#c" x="272.8" y="170.3"/><use href="#c" x="273.3" y="183.3"/><use href="#c" x="273.4" y="172.3"/><use href="#c" x="273.4" y="170.9"/><use href="#c" x="273.5" y="182.8"/><use href="#c" x="273.5" y="166.9"/><use href="#c" x="273.6" y="183.5"/><use href="#c" x="274.2" y="173.9"/><use href="#c" x="274.2" y="172.5"/><use href="#c" x="274.2" y="182.0"/><use href="#c" x="274.3" y="171.2"/><use href="#c" x="274.3" y="181.4"/><use href="#c" x="274.3" y="176.9"/><use href="#c" x="274.9" y="173.7"/><use href="#c" x="274.9" y="183.8"/><use href="#c" x="275.0" y="169.6"/><use href="#c" x="275.0" y="172.7"/><use href="#c" x="275.1" y="175.2"/><use href="#c" x="275.1" y="185.8"/><use href="#c" x="275.6" y="171.8"/><use href="#c" x="275.7" y="178.8"/><use href="#c" x="275.8" y="178.2"/><use href="#c" x="275.8" y="186.5"/><use href="#c" x="275.8" y="179.8"/><use href="#c" x="275.8" y="183.2"/><use href="#c" x="276.4" y="185.9"/><use href="#c" x="276.4" y="176.2"/><use href="#c" x="276.4" y="187.9"/><use href="#c" x="276.5" y="182.7"/><use href="#c" x="276.5" y="182.5"/><use href="#c" x="276.6" y="174.4"/><use href="#c" x="277.1" y="190.8"/><use href="#c" x="277.2" y="174.6"/><use href="#c" x="277.2" y="192.3"/><use href="#c" x="277.3" y="177.2"/><use href="#c" x="277.3" y="188.9"/><use href="#c" x="277.4" y="185.6"/><use href="#c" x="277.6" y="164.0"/><use href="#c" x="277.7" y="163.8"/><use href="#c" x="277.9" y="192.9"/><use href="#c" x="277.9" y="176.2"/><use href="#c" x="277.9" y="192.5"/><use href="#c" x="278.0" y="191.2"/><use href="#c" x="278.0" y="193.4"/><use href="#c" x="278.0" y="179.0"/><use href="#c" x="278.6" y="179.1"/><use href="#c" x="278.6" y="182.5"/><use href="#c" x="278.6" y="187.6"/><use href="#c" x="278.6" y="179.1"/><use href="#c" x="278.7" y="187.2"/><use href="#c" x="278.7" y="181.6"/><use href="#c" x="279.3" y="189.4"/><use href="#c" x="279.3" y="177.4"/><use href="#c" x="279.4" y="182.6"/><use href="#c" x="279.4" y="192.6"/><use href="#c" x="279.4" y="184.3"/><use href="#c" x="279.5" y="179.5"/><use href="#c" x="280.1" y="183.2"/><use href="#c" x="280.1" y="197.4"/><use href="#c" x="280.1" y="189.2"/><use href="#c" x="280.1" y="198.3"/><use href="#c" x="280.2" y="181.4"/><use href="#c" x="280.2" y="186.0"/><use href="#c" x="280.3" y="176.2"/><use href="#c" x="280.8" y="188.4"/><use href="#c" x="280.9" y="178.7"/><use href="#c" x="280.9" y="187.6"/><use href="#c" x="280.9" y="187.2"/><use href="#c" x="281.0" y="178.5"/><use href="#c" x="281.0" y="192.3"/><use href="#c" x="281.5" y="200.1"/><use href="#c" x="281.5" y="190.7"/><use href="#c" x="281.5" y="201.0"/><use href="#c" x="281.5" y="193.3"/><use href="#c" x="281.6" y="185.8"/><use href="#c" x="281.6" y="190.4"/><use href="#c" x="282.1" y="191.6"/><use href="#c" x="282.2" y="199.4"/><use href="#c" x="282.2" y="198.5"/><use href="#c" x="282.2" y="201.7"/><use href="#c" x="282.3" y="201.2"/><use href="#c" x="282.4" y="202.1"/><use href="#c" x="282.8" y="202.7"/><use href="#c" x="282.8" y="190.7"/><use href="#c" x="282.9" y="186.0"/><use href="#c" x="282.9" y="191.0"/><use href="#c" x="283.0" y="187.5"/><use href="#c" x="283.0" y="201.5"/><use href="#c" x="283.5" y="200.9"/><use href="#c" x="283.5" y="202.8"/><use href="#c" x="283.6" y="197.8"/><use href="#c" x="283.6" y="197.1"/><use href="#c" x="283.6" y="192.8"/><use href="#c" x="283.7" y="193.0"/><use href="#c" x="284.0" y="205.0"/><use href="#c" x="284.2" y="194.6"/><use href="#c" x="284.2" y="186.5"/><use href="#c" x="284.3" y="202.9"/><use href="#c" x="284.3" y="188.3"/><use href="#c" x="284.3" y="199.0"/><use href="#c" x="284.4" y="189.6"/><use href="#c" x="284.5" y="164.6"/><use href="#c" x="284.5" y="211.9"/><use href="#c" x="284.7" y="164.6"/><use href="#c" x="284.7" y="177.7"/><use href="#c" x="284.7" y="212.2"/><use href="#c" x="284.9" y="197.7"/><use href="#c" x="284.9" y="197.7"/><use href="#c" x="284.9" y="200.8"/><use href="#c" x="284.9" y="197.5"/><use href="#c" x="285.0" y="187.2"/><use href="#c" x="285.0" y="203.3"/><use href="#c" x="285.1" y="207.8"/><use href="#c" x="285.6" y="206.5"/><use href="#c" x="285.6" y="210.7"/><use href="#c" x="285.7" y="211.0"/><use href="#c" x="285.7" y="189.3"/><use href="#c" x="285.7" y="210.0"/><use href="#c" x="286.2" y="207.6"/><use href="#c" x="286.2" y="206.1"/><use href="#c" x="286.2" y="209.7"/><use href="#c" x="286.3" y="188.5"/><use href="#c" x="286.4" y="199.6"/><use href="#c" x="286.4" y="206.9"/><use href="#c" x="286.8" y="195.9"/><use href="#c" x="286.8" y="208.0"/><use href="#c" x="286.9" y="192.4"/><use href="#c" x="286.9" y="210.8"/><use href="#c" x="286.9" y="194.5"/><use href="#c" x="287.0" y="211.9"/><use href="#c" x="287.6" y="205.2"/><use href="#c" x="287.6" y="205.0"/><use href="#c" x="287.6" y="211.4"/><use href="#c" x="287.7" y="203.7"/><use href="#c" x="287.7" y="191.4"/><use href="#c" x="288.2" y="204.7"/><use href="#c" x="288.2" y="209.6"/><use href="#c" x="288.3" y="194.2"/><use href="#c" x="288.3" y="190.8"/><use href="#c" x="288.4" y="196.5"/><use href="#c" x="288.7" y="198.7"/><use href="#c" x="288.8" y="191.3"/><use href="#c" x="288.9" y="206.8"/><use href="#c" x="288.9" y="206.0"/><use href="#c" x="289.0" y="204.0"/><use href="#c" x="289.0" y="207.4"/><use href="#c" x="289.4" y="191.9"/><use href="#c" x="289.4" y="200.8"/><use href="#c" x="289.4" y="200.9"/><use href="#c" x="289.5" y="206.9"/><use href="#c" x="289.5" y="196.8"/><use href="#c" x="289.5" y="197.4"/><use href="#c" x="289.7" y="174.8"/><use href="#c" x="289.7" y="212.9"/><use href="#c" x="289.7" y="175.0"/><use href="#c" x="289.7" y="220.0"/><use href="#c" x="290.0" y="198.8"/><use href="#c" x="290.2" y="194.8"/><use href="#c" x="290.2" y="215.6"/><use href="#c" x="290.2" y="195.9"/><use href="#c" x="290.3" y="181.4"/><use href="#c" x="290.3" y="222.9"/><use href="#c" x="290.5" y="141.9"/><use href="#c" x="290.5" y="220.8"/><use href="#c" x="290.6" y="200.3"/><use href="#c" x="290.8" y="210.1"/><use href="#c" x="290.8" y="202.5"/><use href="#c" x="290.9" y="204.9"/><use href="#c" x="290.9" y="178.5"/><use href="#c" x="290.9" y="228.6"/><use href="#c" x="291.2" y="177.7"/><use href="#c" x="291.2" y="228.8"/><use href="#c" x="291.3" y="204.7"/><use href="#c" x="291.4" y="195.8"/><use href="#c" x="291.4" y="196.2"/><use href="#c" x="291.5" y="200.8"/><use href="#c" x="291.9" y="199.3"/><use href="#c" x="291.9" y="216.5"/><use href="#c" x="291.9" y="200.1"/><use href="#c" x="292.0" y="210.3"/><use href="#c" x="292.1" y="211.1"/><use href="#c" x="292.1" y="208.9"/><use href="#c" x="292.6" y="213.9"/><use href="#c" x="292.6" y="184.3"/><use href="#c" x="292.6" y="214.8"/><use href="#c" x="292.7" y="197.3"/><use href="#c" x="292.7" y="198.2"/><use href="#c" x="293.1" y="208.1"/><use href="#c" x="293.1" y="200.6"/><use href="#c" x="293.1" y="199.2"/><use href="#c" x="293.2" y="214.4"/><use href="#c" x="293.4" y="212.2"/><use href="#c" x="293.7" y="214.1"/><use href="#c" x="293.8" y="210.8"/><use href="#c" x="293.8" y="215.6"/><use href="#c" x="293.8" y="188.9"/><use href="#c" x="293.8" y="214.2"/><use href="#c" x="293.8" y="205.0"/><use href="#c" x="294.0" y="210.7"/><use href="#c" x="294.4" y="192.4"/><use href="#c" x="294.4" y="216.5"/><use href="#c" x="295.0" y="195.8"/><use href="#c" x="295.0" y="199.3"/><use href="#c" x="295.0" y="209.6"/><use href="#c" x="295.0" y="205.0"/><use href="#c" x="295.0" y="200.3"/><use href="#c" x="118.0" y="343.1"/><use href="#c" x="118.0" y="348.8"/><use href="#c" x="120.1" y="346.7"/><use href="#c" x="124.2" y="343.8"/><use href="#c" x="124.2" y="351.0"/><use href="#c" x="132.4" y="339.5"/><use href="#c" x="132.4" y="343.8"/><use href="#c" x="133.8" y="348.8"/><use href="#c" x="133.8" y="351.7"/><use href="#c" x="138.2" y="334.4"/><use href="#c" x="138.2" y="342.0"/><use href="#c" x="141.8" y="349.6"/><use href="#c" x="144.7" y="348.1"/><use href="#c" x="146.8" y="346.7"/><use href="#c" x="147.6" y="351.0"/><use href="#c" x="150.5" y="345.2"/><use href="#c" x="151.2" y="350.3"/><use href="#c" x="151.2" y="354.6"/><use href="#c" x="156.3" y="348.9"/><use href="#c" x="157.6" y="351.9"/><use href="#c" x="158.5" y="344.5"/><use href="#c" x="159.8" y="358.0"/><use href="#c" x="160.6" y="346.7"/><use href="#c" x="160.6" y="352.3"/><use href="#c" x="163.7" y="353.6"/><use href="#c" x="165.8" y="350.6"/><use href="#c" x="166.3" y="355.8"/><use href="#c" x="168.4" y="353.2"/><use href="#c" x="168.9" y="358.4"/><use href="#c" x="170.6" y="355.8"/><use href="#c" x="170.6" y="361.0"/><use href="#c" x="172.8" y="354.5"/><use href="#c" x="173.2" y="358.0"/><use href="#c" x="173.6" y="361.9"/><use href="#c" x="175.8" y="359.3"/><use href="#c" x="177.1" y="356.7"/><use href="#c" x="178.0" y="361.5"/><use href="#c" x="180.2" y="360.2"/><use href="#c" x="181.0" y="362.8"/><use href="#c" x="182.8" y="361.0"/><use href="#c" x="183.6" y="363.6"/><use href="#c" x="183.9" y="361.7"/><use href="#c" x="183.9" y="367.9"/><use href="#c" x="183.9" y="369.3"/><use href="#c" x="184.0" y="366.5"/><use href="#c" x="184.1" y="365.0"/><use href="#c" x="186.5" y="364.9"/><use href="#c" x="186.5" y="369.6"/><use href="#c" x="186.6" y="368.1"/><use href="#c" x="186.6" y="371.5"/><use href="#c" x="186.7" y="368.2"/><use href="#c" x="188.9" y="373.1"/><use href="#c" x="188.9" y="367.0"/><use href="#c" x="189.0" y="372.8"/><use href="#c" x="189.0" y="368.9"/><use href="#c" x="191.4" y="365.9"/><use href="#c" x="191.4" y="369.5"/><use href="#c" x="191.4" y="372.3"/><use href="#c" x="191.5" y="368.1"/><use href="#c" x="191.5" y="370.6"/><use href="#c" x="193.6" y="375.8"/><use href="#c" x="193.7" y="376.4"/><use href="#c" x="193.7" y="374.0"/><use href="#c" x="193.8" y="372.3"/><use href="#c" x="195.8" y="371.7"/><use href="#c" x="195.9" y="376.0"/><use href="#c" x="196.0" y="370.2"/><use href="#c" x="196.0" y="375.4"/><use href="#c" x="198.0" y="372.8"/><use href="#c" x="198.0" y="378.9"/><use href="#c" x="198.1" y="371.6"/><use href="#c" x="198.2" y="380.4"/><use href="#c" x="200.1" y="379.4"/><use href="#c" x="200.1" y="373.7"/><use href="#c" x="200.2" y="380.7"/><use href="#c" x="200.2" y="372.9"/><use href="#c" x="200.2" y="372.4"/><use href="#c" x="202.1" y="382.3"/><use href="#c" x="202.1" y="382.5"/><use href="#c" x="202.2" y="377.6"/><use href="#c" x="202.3" y="376.5"/><use href="#c" x="204.3" y="384.3"/><use href="#c" x="204.3" y="376.5"/><use href="#c" x="204.3" y="378.4"/><use href="#c" x="204.3" y="378.3"/><use href="#c" x="206.1" y="384.1"/><use href="#c" x="206.2" y="383.2"/><use href="#c" x="206.2" y="382.2"/><use href="#c" x="206.2" y="385.4"/><use href="#c" x="206.2" y="378.8"/><use href="#c" x="208.0" y="390.1"/><use href="#c" x="208.0" y="384.9"/><use href="#c" x="208.0" y="389.8"/><use href="#c" x="208.2" y="390.2"/><use href="#c" x="209.8" y="384.9"/><use href="#c" x="209.9" y="386.7"/><use href="#c" x="209.9" y="383.9"/><use href="#c" x="209.9" y="389.6"/><use href="#c" x="210.0" y="389.0"/><use href="#c" x="211.7" y="385.8"/><use href="#c" x="211.8" y="389.7"/><use href="#c" x="211.8" y="385.8"/><use href="#c" x="211.8" y="394.1"/><use href="#c" x="211.8" y="393.8"/><use href="#c" x="213.4" y="387.7"/><use href="#c" x="213.4" y="393.3"/><use href="#c" x="213.4" y="392.4"/><use href="#c" x="213.5" y="394.9"/><use href="#c" x="215.1" y="387.8"/><use href="#c" x="215.2" y="398.0"/><use href="#c" x="215.2" y="396.0"/><use href="#c" x="215.2" y="389.1"/><use href="#c" x="215.3" y="391.2"/><use href="#c" x="216.8" y="397.7"/><use href="#c" x="216.8" y="390.3"/><use href="#c" x="216.9" y="397.2"/><use href="#c" x="216.9" y="397.4"/><use href="#c" x="217.0" y="399.4"/><use href="#c" x="218.5" y="393.2"/><use href="#c" x="218.5" y="400.8"/><use href="#c" x="218.5" y="396.6"/><use href="#c" x="218.6" y="391.3"/><use href="#c" x="218.6" y="398.1"/><use href="#c" x="220.0" y="400.9"/><use href="#c" x="220.1" y="393.0"/><use href="#c" x="220.1" y="398.4"/><use href="#c" x="220.2" y="396.5"/><use href="#c" x="221.6" y="398.9"/><use href="#c" x="221.7" y="395.3"/><use href="#c" x="221.7" y="402.7"/><use href="#c" x="221.8" y="402.2"/><use href="#c" x="221.8" y="400.3"/><use href="#c" x="223.1" y="399.7"/><use href="#c" x="223.2" y="401.6"/><use href="#c" x="223.2" y="402.0"/><use href="#c" x="223.2" y="398.0"/><use href="#c" x="223.3" y="398.4"/><use href="#c" x="224.6" y="404.3"/><use href="#c" x="224.6" y="401.7"/><use href="#c" x="224.7" y="402.0"/><use href="#c" x="224.8" y="403.5"/><use href="#c" x="226.1" y="403.5"/><use href="#c" x="226.2" y="405.7"/><use href="#c" x="226.3" y="407.4"/><use href="#c" x="226.3" y="405.1"/><use href="#c" x="227.6" y="401.0"/><use href="#c" x="227.7" y="402.7"/><use href="#c" x="227.7" y="406.4"/><use href="#c" x="227.8" y="407.8"/><use href="#c" x="227.8" y="402.8"/><use href="#c" x="229.0" y="409.3"/><use href="#c" x="229.0" y="410.5"/><use href="#c" x="229.0" y="402.5"/><use href="#c" x="229.2" y="408.2"/><use href="#c" x="230.4" y="404.9"/><use href="#c" x="230.4" y="410.5"/><use href="#c" x="230.4" y="412.0"/><use href="#c" x="230.6" y="412.5"/><use href="#c" x="231.7" y="413.6"/><use href="#c" x="231.8" y="409.7"/><use href="#c" x="231.8" y="412.5"/><use href="#c" x="231.9" y="412.9"/><use href="#c" x="232.0" y="412.3"/><use href="#c" x="233.1" y="407.0"/><use href="#c" x="233.2" y="411.5"/><use href="#c" x="233.2" y="411.1"/><use href="#c" x="233.3" y="412.0"/><use href="#c" x="234.5" y="409.6"/><use href="#c" x="234.5" y="415.6"/><use href="#c" x="234.6" y="408.8"/><use href="#c" x="234.6" y="407.6"/><use href="#c" x="234.6" y="407.8"/><use href="#c" x="235.7" y="412.7"/><use href="#c" x="235.7" y="417.8"/><use href="#c" x="235.8" y="412.8"/><use href="#c" x="235.9" y="419.1"/><use href="#c" x="235.9" y="416.6"/><use href="#c" x="237.0" y="410.6"/><use href="#c" x="237.1" y="412.1"/><use href="#c" x="237.2" y="411.8"/><use href="#c" x="237.2" y="421.2"/><use href="#c" x="238.4" y="417.9"/><use href="#c" x="238.4" y="416.7"/><use href="#c" x="238.4" y="420.4"/><use href="#c" x="238.5" y="419.4"/><use href="#c" x="239.5" y="423.9"/><use href="#c" x="239.6" y="423.6"/><use href="#c" x="239.7" y="413.9"/><use href="#c" x="239.7" y="423.4"/><use href="#c" x="240.8" y="418.2"/><use href="#c" x="240.8" y="419.3"/><use href="#c" x="240.8" y="416.3"/><use href="#c" x="240.9" y="420.4"/><use href="#c" x="242.0" y="420.1"/><use href="#c" x="242.1" y="428.8"/><use href="#c" x="242.1" y="426.0"/><use href="#c" x="242.1" y="424.7"/><use href="#c" x="243.1" y="418.7"/><use href="#c" x="243.2" y="428.0"/><use href="#c" x="243.3" y="422.4"/><use href="#c" x="243.3" y="427.8"/><use href="#c" x="243.3" y="429.1"/><use href="#c" x="244.3" y="430.0"/><use href="#c" x="244.3" y="427.6"/><use href="#c" x="244.4" y="422.0"/><use href="#c" x="244.4" y="427.9"/><use href="#c" x="244.5" y="426.5"/><use href="#c" x="245.4" y="422.8"/><use href="#c" x="245.6" y="425.1"/><use href="#c" x="245.6" y="426.5"/><use href="#c" x="245.6" y="429.9"/><use href="#c" x="246.5" y="434.8"/><use href="#c" x="246.5" y="432.1"/><use href="#c" x="246.7" y="428.4"/><use href="#c" x="246.7" y="426.3"/><use href="#c" x="246.7" y="431.3"/><use href="#c" x="247.7" y="427.2"/><use href="#c" x="247.8" y="435.9"/><use href="#c" x="247.8" y="431.6"/><use href="#c" x="247.8" y="425.1"/><use href="#c" x="247.8" y="431.7"/><use href="#c" x="248.7" y="427.1"/><use href="#c" x="248.7" y="427.9"/><use href="#c" x="248.8" y="434.1"/><use href="#c" x="248.8" y="426.5"/><use href="#c" x="248.9" y="431.9"/><use href="#c" x="249.8" y="435.9"/><use href="#c" x="249.8" y="429.8"/><use href="#c" x="249.9" y="431.2"/><use href="#c" x="249.9" y="435.4"/><use href="#c" x="251.0" y="438.0"/><use href="#c" x="251.0" y="429.5"/><use href="#c" x="251.0" y="432.9"/><use href="#c" x="251.0" y="431.6"/><use href="#c" x="251.9" y="432.0"/><use href="#c" x="251.9" y="440.3"/><use href="#c" x="251.9" y="437.7"/><use href="#c" x="251.9" y="430.5"/><use href="#c" x="252.0" y="437.6"/><use href="#c" x="252.9" y="432.3"/><use href="#c" x="252.9" y="441.0"/><use href="#c" x="252.9" y="437.9"/><use href="#c" x="253.1" y="435.8"/><use href="#c" x="253.9" y="438.6"/><use href="#c" x="254.0" y="435.6"/><use href="#c" x="254.1" y="436.8"/><use href="#c" x="254.1" y="434.4"/><use href="#c" x="255.0" y="436.5"/><use href="#c" x="255.0" y="442.8"/><use href="#c" x="255.0" y="436.5"/><use href="#c" x="255.1" y="438.1"/><use href="#c" x="255.1" y="438.2"/><use href="#c" x="255.9" y="437.9"/><use href="#c" x="255.9" y="445.0"/><use href="#c" x="255.9" y="440.1"/><use href="#c" x="256.1" y="440.4"/><use href="#c" x="256.1" y="442.7"/><use href="#c" x="256.9" y="441.4"/><use href="#c" x="256.9" y="438.4"/><use href="#c" x="257.0" y="437.2"/><use href="#c" x="257.0" y="437.7"/><use href="#c" x="257.1" y="441.8"/><use href="#c" x="257.9" y="447.5"/><use href="#c" x="257.9" y="438.4"/><use href="#c" x="258.0" y="446.2"/><use href="#c" x="258.1" y="447.6"/><use href="#c" x="258.8" y="441.2"/><use href="#c" x="258.9" y="444.9"/><use href="#c" x="259.0" y="440.7"/><use href="#c" x="259.0" y="441.8"/><use href="#c" x="259.7" y="448.6"/><use href="#c" x="259.8" y="444.2"/><use href="#c" x="259.8" y="445.3"/><use href="#c" x="259.9" y="451.6"/><use href="#c" x="259.9" y="442.3"/><use href="#c" x="260.7" y="447.2"/><use href="#c" x="260.7" y="447.5"/><use href="#c" x="260.8" y="447.0"/><use href="#c" x="260.8" y="440.9"/><use href="#c" x="260.8" y="446.6"/><use href="#c" x="261.6" y="453.5"/><use href="#c" x="261.7" y="452.9"/><use href="#c" x="261.8" y="454.0"/><use href="#c" x="261.8" y="443.6"/><use href="#c" x="262.5" y="444.5"/><use href="#c" x="262.5" y="443.7"/><use href="#c" x="262.6" y="443.1"/><use href="#c" x="262.6" y="452.8"/><use href="#c" x="262.7" y="450.7"/><use href="#c" x="263.5" y="446.8"/><use href="#c" x="263.5" y="449.2"/><use href="#c" x="263.6" y="450.7"/><use href="#c" x="263.6" y="443.7"/><use href="#c" x="264.3" y="451.1"/><use href="#c" x="264.3" y="458.4"/><use href="#c" x="264.4" y="458.9"/><use href="#c" x="264.5" y="447.6"/><use href="#c" x="264.5" y="447.3"/><use href="#c" x="265.2" y="445.6"/><use href="#c" x="265.2" y="449.2"/><use href="#c" x="265.3" y="445.3"/><use href="#c" x="265.3" y="450.5"/><use href="#c" x="265.3" y="447.7"/><use href="#c" x="266.0" y="450.0"/><use href="#c" x="266.0" y="457.5"/><use href="#c" x="266.0" y="461.4"/><use href="#c" x="266.1" y="448.3"/><use href="#c" x="266.9" y="461.7"/><use href="#c" x="266.9" y="450.9"/><use href="#c" x="267.0" y="456.7"/><use href="#c" x="267.1" y="453.8"/><use href="#c" x="267.7" y="454.9"/><use href="#c" x="267.7" y="463.7"/><use href="#c" x="267.9" y="452.5"/><use href="#c" x="267.9" y="462.7"/><use href="#c" x="268.6" y="453.9"/><use href="#c" x="268.7" y="460.4"/><use href="#c" x="268.7" y="456.2"/><use href="#c" x="268.7" y="464.0"/><use href="#c" x="268.7" y="466.1"/><use href="#c" x="269.4" y="453.1"/><use href="#c" x="269.5" y="466.3"/><use href="#c" x="269.5" y="454.0"/><use href="#c" x="269.6" y="460.5"/><use href="#c" x="269.6" y="466.3"/><use href="#c" x="270.2" y="463.7"/><use href="#c" x="270.3" y="454.9"/><use href="#c" x="270.3" y="462.4"/><use href="#c" x="270.3" y="460.5"/><use href="#c" x="270.4" y="451.7"/><use href="#c" x="271.0" y="467.2"/><use href="#c" x="271.1" y="465.3"/><use href="#c" x="271.1" y="460.7"/><use href="#c" x="271.2" y="454.7"/><use href="#c" x="271.8" y="471.6"/><use href="#c" x="271.8" y="470.5"/><use href="#c" x="271.9" y="456.8"/><use href="#c" x="272.0" y="460.4"/><use href="#c" x="272.6" y="458.5"/><use href="#c" x="272.6" y="469.0"/><use href="#c" x="272.6" y="457.6"/><use href="#c" x="272.7" y="460.5"/><use href="#c" x="273.4" y="463.2"/><use href="#c" x="273.5" y="462.5"/><use href="#c" x="273.5" y="473.9"/><use href="#c" x="273.5" y="455.5"/><use href="#c" x="273.5" y="461.4"/><use href="#c" x="274.2" y="458.3"/><use href="#c" x="274.3" y="472.9"/><use href="#c" x="274.3" y="455.2"/><use href="#c" x="274.3" y="468.5"/><use href="#c" x="274.3" y="475.6"/><use href="#c" x="275.0" y="462.3"/><use href="#c" x="275.0" y="473.8"/><use href="#c" x="275.1" y="460.0"/><use href="#c" x="275.1" y="474.4"/><use href="#c" x="275.7" y="461.0"/><use href="#c" x="275.7" y="462.7"/><use href="#c" x="275.7" y="456.7"/><use href="#c" x="275.8" y="468.5"/><use href="#c" x="276.4" y="479.9"/><use href="#c" x="276.5" y="457.5"/><use href="#c" x="276.6" y="463.5"/><use href="#c" x="276.6" y="460.0"/><use href="#c" x="277.2" y="464.3"/><use href="#c" x="277.2" y="470.4"/><use href="#c" x="277.2" y="461.8"/><use href="#c" x="277.3" y="468.0"/><use href="#c" x="277.9" y="463.0"/><use href="#c" x="277.9" y="470.8"/><use href="#c" x="278.0" y="476.4"/><use href="#c" x="278.1" y="473.9"/><use href="#c" x="278.1" y="465.4"/><use href="#c" x="278.6" y="473.6"/><use href="#c" x="278.8" y="463.8"/><use href="#c" x="278.8" y="469.3"/><use href="#c" x="278.8" y="465.6"/><use href="#c" x="279.4" y="466.6"/><use href="#c" x="279.5" y="463.3"/><use href="#c" x="279.5" y="465.6"/><use href="#c" x="279.5" y="480.6"/><use href="#c" x="280.1" y="475.9"/><use href="#c" x="280.1" y="467.8"/><use href="#c" x="280.2" y="466.6"/><use href="#c" x="280.2" y="464.5"/><use href="#c" x="280.8" y="468.3"/><use href="#c" x="280.9" y="478.9"/><use href="#c" x="280.9" y="463.4"/><use href="#c" x="280.9" y="476.2"/><use href="#c" x="281.0" y="478.2"/><use href="#c" x="281.5" y="470.2"/><use href="#c" x="281.6" y="471.5"/><use href="#c" x="281.6" y="484.8"/><use href="#c" x="281.7" y="469.3"/><use href="#c" x="281.7" y="488.2"/><use href="#c" x="282.2" y="466.7"/><use href="#c" x="282.2" y="478.0"/><use href="#c" x="282.3" y="465.8"/><use href="#c" x="282.3" y="472.7"/><use href="#c" x="282.4" y="489.1"/><use href="#c" x="282.9" y="468.3"/><use href="#c" x="282.9" y="470.8"/><use href="#c" x="283.0" y="479.4"/><use href="#c" x="283.0" y="475.4"/><use href="#c" x="283.0" y="480.1"/><use href="#c" x="283.6" y="485.8"/><use href="#c" x="283.6" y="480.4"/><use href="#c" x="283.6" y="477.1"/><use href="#c" x="283.6" y="475.5"/><use href="#c" x="283.7" y="487.1"/><use href="#c" x="284.3" y="486.6"/><use href="#c" x="284.3" y="454.5"/><use href="#c" x="284.3" y="498.8"/><use href="#c" x="284.3" y="502.0"/><use href="#c" x="284.3" y="470.3"/><use href="#c" x="284.4" y="495.7"/><use href="#c" x="284.4" y="468.2"/><use href="#c" x="284.7" y="454.7"/><use href="#c" x="284.9" y="487.8"/><use href="#c" x="285.0" y="492.7"/><use href="#c" x="285.0" y="472.1"/><use href="#c" x="285.1" y="470.2"/><use href="#c" x="285.5" y="500.1"/><use href="#c" x="285.6" y="481.6"/><use href="#c" x="285.6" y="473.2"/><use href="#c" x="285.6" y="471.1"/><use href="#c" x="285.7" y="478.2"/><use href="#c" x="286.2" y="497.1"/><use href="#c" x="286.3" y="473.7"/><use href="#c" x="286.3" y="483.7"/><use href="#c" x="286.4" y="475.4"/><use href="#c" x="286.9" y="474.4"/><use href="#c" x="287.0" y="500.7"/><use href="#c" x="287.0" y="502.5"/><use href="#c" x="287.1" y="495.3"/><use href="#c" x="287.5" y="496.2"/><use href="#c" x="287.6" y="482.8"/><use href="#c" x="287.7" y="487.1"/><use href="#c" x="287.7" y="474.9"/><use href="#c" x="287.7" y="477.9"/><use href="#c" x="288.2" y="483.1"/><use href="#c" x="288.2" y="497.7"/><use href="#c" x="288.2" y="478.5"/><use href="#c" x="288.3" y="477.2"/><use href="#c" x="288.4" y="488.2"/><use href="#c" x="288.9" y="506.1"/><use href="#c" x="288.9" y="503.0"/><use href="#c" x="289.0" y="473.2"/><use href="#c" x="289.0" y="494.1"/><use href="#c" x="289.5" y="478.0"/><use href="#c" x="289.5" y="502.3"/><use href="#c" x="289.5" y="486.8"/><use href="#c" x="289.5" y="486.3"/><use href="#c" x="289.9" y="512.0"/><use href="#c" x="290.1" y="464.8"/><use href="#c" x="290.2" y="489.4"/><use href="#c" x="290.2" y="505.4"/><use href="#c" x="290.3" y="483.9"/><use href="#c" x="290.3" y="502.6"/><use href="#c" x="290.4" y="431.7"/><use href="#c" x="290.7" y="518.9"/><use href="#c" x="290.7" y="468.6"/><use href="#c" x="290.7" y="510.4"/><use href="#c" x="290.7" y="519.4"/><use href="#c" x="290.8" y="481.5"/><use href="#c" x="290.8" y="485.4"/><use href="#c" x="290.9" y="501.8"/><use href="#c" x="290.9" y="489.6"/><use href="#c" x="291.3" y="506.5"/><use href="#c" x="291.4" y="504.7"/><use href="#c" x="291.4" y="500.1"/><use href="#c" x="291.5" y="508.4"/><use href="#c" x="291.5" y="505.4"/><use href="#c" x="291.9" y="507.0"/><use href="#c" x="291.9" y="490.6"/><use href="#c" x="292.0" y="494.1"/><use href="#c" x="292.0" y="474.4"/><use href="#c" x="292.0" y="507.0"/><use href="#c" x="292.1" y="504.3"/><use href="#c" x="292.5" y="490.8"/><use href="#c" x="292.5" y="483.8"/><use href="#c" x="292.5" y="502.2"/><use href="#c" x="292.5" y="503.8"/><use href="#c" x="292.6" y="494.6"/><use href="#c" x="292.6" y="504.0"/><use href="#c" x="292.8" y="507.2"/><use href="#c" x="293.2" y="506.7"/><use href="#c" x="293.2" y="501.4"/><use href="#c" x="293.3" y="498.9"/><use href="#c" x="293.3" y="495.0"/><use href="#c" x="293.7" y="497.3"/><use href="#c" x="293.8" y="496.2"/><use href="#c" x="293.9" y="497.6"/><use href="#c" x="293.9" y="494.1"/><use href="#c" x="293.9" y="479.6"/><use href="#c" x="293.9" y="500.1"/><use href="#c" x="294.3" y="503.1"/><use href="#c" x="294.3" y="499.3"/><use href="#c" x="294.4" y="490.8"/><use href="#c" x="294.5" y="493.5"/><use href="#c" x="294.6" y="486.0"/><use href="#c" x="294.6" y="489.8"/><use href="#c" x="294.6" y="495.0"/><use href="#c" x="294.9" y="495.0"/><use href="#c" x="294.9" y="500.1"/><use href="#c" x="295.0" y="495.0"/><use href="#c" x="295.1" y="496.3"/>
</svg></body></html>
